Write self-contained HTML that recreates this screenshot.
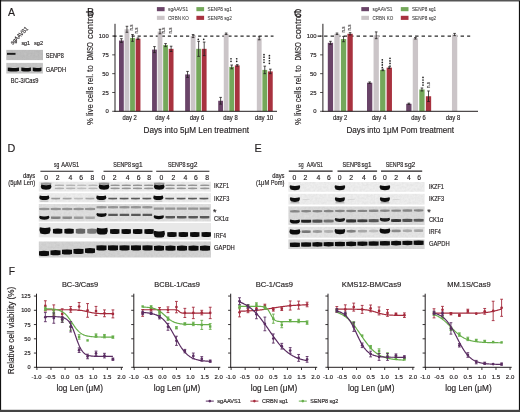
<!DOCTYPE html><html><head><meta charset="utf-8"><style>html,body{margin:0;padding:0;background:#fff;}svg{display:block;font-family:"Liberation Sans",sans-serif;opacity:0.999;}text{stroke:#231f20;stroke-width:0.16px;}</style></head><body><svg width="520" height="412" viewBox="0 0 520 412">
<defs><filter id="b05" x="-20%" y="-50%" width="140%" height="200%"><feGaussianBlur stdDeviation="0.55"/></filter><filter id="b06" x="-20%" y="-50%" width="140%" height="200%"><feGaussianBlur stdDeviation="0.6"/></filter><filter id="noise" x="0" y="0" width="100%" height="100%"><feTurbulence type="fractalNoise" baseFrequency="0.45" numOctaves="2" seed="5" result="t"/><feColorMatrix in="t" type="matrix" values="0 0 0 0 0  0 0 0 0 0  0 0 0 0 0  0.16 0 0 0 -0.04" result="n"/><feComposite in="n" in2="SourceGraphic" operator="in" result="m"/><feMerge><feMergeNode in="SourceGraphic"/><feMergeNode in="m"/></feMerge></filter></defs>
<rect width="520" height="412" fill="#fff"/>
<text x="8.00" y="16.00" font-size="10.5" text-anchor="start" fill="#231f20">A</text>
<text transform="translate(12.80 45.00) rotate(-45)" font-size="6.2" text-anchor="start" fill="#231f20" textLength="22.40" lengthAdjust="spacingAndGlyphs">sgAAVS1</text>
<text x="21.40" y="45.10" font-size="6" text-anchor="start" fill="#231f20" textLength="8.70" lengthAdjust="spacingAndGlyphs">sg1</text>
<text x="34.00" y="45.10" font-size="6" text-anchor="start" fill="#231f20" textLength="9.10" lengthAdjust="spacingAndGlyphs">sg2</text>
<rect x="6.30" y="49.90" width="36.70" height="10.20" fill="#c0c0c0" filter="url(#noise)"/>
<g filter="url(#b06)">
<rect x="7.00" y="52.90" width="8.50" height="1.90" fill="#1a1a1a"/>
</g>
<rect x="6.30" y="62.90" width="36.60" height="10.60" fill="#c8c8c8" filter="url(#noise)"/>
<g filter="url(#b06)">
<path d="M7.8,67.6 Q13.4,68.6 19,67.4 L19,71 Q13.4,72 7.8,71 Z" fill="#111"/>
<path d="M21.3,67.6 Q26.1,68.6 30.9,67.4 L30.9,71 Q26.1,72 21.3,71 Z" fill="#111"/>
<path d="M32.8,67.6 Q37.15,68.6 41.5,67.4 L41.5,71 Q37.15,72 32.8,71 Z" fill="#111"/>
</g>
<text x="45.80" y="57.67" font-size="6.3" text-anchor="start" fill="#231f20" textLength="18.00" lengthAdjust="spacingAndGlyphs">SENP8</text>
<text x="45.80" y="72.10" font-size="6.4" text-anchor="start" fill="#231f20" textLength="20.20" lengthAdjust="spacingAndGlyphs">GAPDH</text>
<text x="10.80" y="83.30" font-size="6.4" text-anchor="start" fill="#231f20" textLength="27.70" lengthAdjust="spacingAndGlyphs">BC-3/Cas9</text>
<line x1="113.40" y1="36.05" x2="273.50" y2="36.05" stroke="#2a2a2a" stroke-width="1.2" stroke-dasharray="3.2,2.85"/>
<rect x="119.00" y="40.56" width="4.80" height="70.73" fill="#6a4468"/>
<line x1="121.40" y1="38.68" x2="121.40" y2="42.45" stroke="#231f20" stroke-width="0.8"/>
<line x1="120.10" y1="38.68" x2="122.70" y2="38.68" stroke="#231f20" stroke-width="0.8"/>
<line x1="120.10" y1="42.45" x2="122.70" y2="42.45" stroke="#231f20" stroke-width="0.8"/>
<rect x="124.55" y="29.28" width="4.80" height="82.02" fill="#cbc5c8"/>
<line x1="126.95" y1="26.27" x2="126.95" y2="32.29" stroke="#231f20" stroke-width="0.8"/>
<line x1="125.65" y1="26.27" x2="128.25" y2="26.27" stroke="#231f20" stroke-width="0.8"/>
<line x1="125.65" y1="32.29" x2="128.25" y2="32.29" stroke="#231f20" stroke-width="0.8"/>
<rect x="130.10" y="37.93" width="4.80" height="73.37" fill="#74a85a"/>
<line x1="132.50" y1="34.55" x2="132.50" y2="41.32" stroke="#231f20" stroke-width="0.8"/>
<line x1="131.20" y1="34.55" x2="133.80" y2="34.55" stroke="#231f20" stroke-width="0.8"/>
<line x1="131.20" y1="41.32" x2="133.80" y2="41.32" stroke="#231f20" stroke-width="0.8"/>
<rect x="135.65" y="38.68" width="4.80" height="72.62" fill="#a8323f"/>
<line x1="138.05" y1="37.93" x2="138.05" y2="39.44" stroke="#231f20" stroke-width="0.8"/>
<line x1="136.75" y1="37.93" x2="139.35" y2="37.93" stroke="#231f20" stroke-width="0.8"/>
<line x1="136.75" y1="39.44" x2="139.35" y2="39.44" stroke="#231f20" stroke-width="0.8"/>
<rect x="152.07" y="49.59" width="4.80" height="61.70" fill="#6a4468"/>
<line x1="154.47" y1="46.59" x2="154.47" y2="52.61" stroke="#231f20" stroke-width="0.8"/>
<line x1="153.17" y1="46.59" x2="155.77" y2="46.59" stroke="#231f20" stroke-width="0.8"/>
<line x1="153.17" y1="52.61" x2="155.77" y2="52.61" stroke="#231f20" stroke-width="0.8"/>
<rect x="157.62" y="31.53" width="4.80" height="79.77" fill="#cbc5c8"/>
<line x1="160.02" y1="29.28" x2="160.02" y2="33.79" stroke="#231f20" stroke-width="0.8"/>
<line x1="158.72" y1="29.28" x2="161.32" y2="29.28" stroke="#231f20" stroke-width="0.8"/>
<line x1="158.72" y1="33.79" x2="161.32" y2="33.79" stroke="#231f20" stroke-width="0.8"/>
<rect x="163.17" y="45.08" width="4.80" height="66.22" fill="#74a85a"/>
<line x1="165.57" y1="43.58" x2="165.57" y2="46.59" stroke="#231f20" stroke-width="0.8"/>
<line x1="164.27" y1="43.58" x2="166.87" y2="43.58" stroke="#231f20" stroke-width="0.8"/>
<line x1="164.27" y1="46.59" x2="166.87" y2="46.59" stroke="#231f20" stroke-width="0.8"/>
<rect x="168.72" y="48.84" width="4.80" height="62.46" fill="#a8323f"/>
<line x1="171.12" y1="46.21" x2="171.12" y2="51.48" stroke="#231f20" stroke-width="0.8"/>
<line x1="169.82" y1="46.21" x2="172.42" y2="46.21" stroke="#231f20" stroke-width="0.8"/>
<line x1="169.82" y1="51.48" x2="172.42" y2="51.48" stroke="#231f20" stroke-width="0.8"/>
<rect x="185.14" y="74.43" width="4.80" height="36.87" fill="#6a4468"/>
<line x1="187.54" y1="71.42" x2="187.54" y2="77.44" stroke="#231f20" stroke-width="0.8"/>
<line x1="186.24" y1="71.42" x2="188.84" y2="71.42" stroke="#231f20" stroke-width="0.8"/>
<line x1="186.24" y1="77.44" x2="188.84" y2="77.44" stroke="#231f20" stroke-width="0.8"/>
<rect x="190.69" y="36.05" width="4.80" height="75.25" fill="#cbc5c8"/>
<line x1="193.09" y1="34.55" x2="193.09" y2="37.56" stroke="#231f20" stroke-width="0.8"/>
<line x1="191.79" y1="34.55" x2="194.39" y2="34.55" stroke="#231f20" stroke-width="0.8"/>
<line x1="191.79" y1="37.56" x2="194.39" y2="37.56" stroke="#231f20" stroke-width="0.8"/>
<rect x="196.24" y="48.84" width="4.80" height="62.46" fill="#74a85a"/>
<line x1="198.64" y1="41.32" x2="198.64" y2="56.37" stroke="#231f20" stroke-width="0.8"/>
<line x1="197.34" y1="41.32" x2="199.94" y2="41.32" stroke="#231f20" stroke-width="0.8"/>
<line x1="197.34" y1="56.37" x2="199.94" y2="56.37" stroke="#231f20" stroke-width="0.8"/>
<rect x="201.79" y="48.84" width="4.80" height="62.46" fill="#a8323f"/>
<line x1="204.19" y1="42.07" x2="204.19" y2="55.62" stroke="#231f20" stroke-width="0.8"/>
<line x1="202.89" y1="42.07" x2="205.49" y2="42.07" stroke="#231f20" stroke-width="0.8"/>
<line x1="202.89" y1="55.62" x2="205.49" y2="55.62" stroke="#231f20" stroke-width="0.8"/>
<rect x="218.21" y="100.77" width="4.80" height="10.53" fill="#6a4468"/>
<line x1="220.61" y1="97.38" x2="220.61" y2="104.15" stroke="#231f20" stroke-width="0.8"/>
<line x1="219.31" y1="97.38" x2="221.91" y2="97.38" stroke="#231f20" stroke-width="0.8"/>
<line x1="219.31" y1="104.15" x2="221.91" y2="104.15" stroke="#231f20" stroke-width="0.8"/>
<rect x="223.76" y="33.79" width="4.80" height="77.51" fill="#cbc5c8"/>
<line x1="226.16" y1="33.04" x2="226.16" y2="34.55" stroke="#231f20" stroke-width="0.8"/>
<line x1="224.86" y1="33.04" x2="227.46" y2="33.04" stroke="#231f20" stroke-width="0.8"/>
<line x1="224.86" y1="34.55" x2="227.46" y2="34.55" stroke="#231f20" stroke-width="0.8"/>
<rect x="229.31" y="66.90" width="4.80" height="44.40" fill="#74a85a"/>
<line x1="231.71" y1="65.02" x2="231.71" y2="68.78" stroke="#231f20" stroke-width="0.8"/>
<line x1="230.41" y1="65.02" x2="233.01" y2="65.02" stroke="#231f20" stroke-width="0.8"/>
<line x1="230.41" y1="68.78" x2="233.01" y2="68.78" stroke="#231f20" stroke-width="0.8"/>
<rect x="234.86" y="65.40" width="4.80" height="45.90" fill="#a8323f"/>
<line x1="237.26" y1="64.65" x2="237.26" y2="66.15" stroke="#231f20" stroke-width="0.8"/>
<line x1="235.96" y1="64.65" x2="238.56" y2="64.65" stroke="#231f20" stroke-width="0.8"/>
<line x1="235.96" y1="66.15" x2="238.56" y2="66.15" stroke="#231f20" stroke-width="0.8"/>
<rect x="256.83" y="38.31" width="4.80" height="72.99" fill="#cbc5c8"/>
<line x1="259.23" y1="36.80" x2="259.23" y2="39.81" stroke="#231f20" stroke-width="0.8"/>
<line x1="257.93" y1="36.80" x2="260.53" y2="36.80" stroke="#231f20" stroke-width="0.8"/>
<line x1="257.93" y1="39.81" x2="260.53" y2="39.81" stroke="#231f20" stroke-width="0.8"/>
<rect x="262.38" y="69.91" width="4.80" height="41.39" fill="#74a85a"/>
<line x1="264.78" y1="66.15" x2="264.78" y2="73.67" stroke="#231f20" stroke-width="0.8"/>
<line x1="263.48" y1="66.15" x2="266.08" y2="66.15" stroke="#231f20" stroke-width="0.8"/>
<line x1="263.48" y1="73.67" x2="266.08" y2="73.67" stroke="#231f20" stroke-width="0.8"/>
<rect x="267.93" y="71.42" width="4.80" height="39.88" fill="#a8323f"/>
<line x1="270.33" y1="69.16" x2="270.33" y2="73.67" stroke="#231f20" stroke-width="0.8"/>
<line x1="269.03" y1="69.16" x2="271.63" y2="69.16" stroke="#231f20" stroke-width="0.8"/>
<line x1="269.03" y1="73.67" x2="271.63" y2="73.67" stroke="#231f20" stroke-width="0.8"/>
<line x1="115.00" y1="23.80" x2="115.00" y2="111.80" stroke="#231f20" stroke-width="1"/>
<line x1="114.50" y1="111.30" x2="277.00" y2="111.30" stroke="#231f20" stroke-width="1"/>
<line x1="112.20" y1="111.30" x2="115.00" y2="111.30" stroke="#231f20" stroke-width="0.8"/>
<text x="108.70" y="113.42" font-size="5.9" text-anchor="end" fill="#231f20">0</text>
<line x1="112.20" y1="92.49" x2="115.00" y2="92.49" stroke="#231f20" stroke-width="0.8"/>
<text x="108.70" y="94.61" font-size="5.9" text-anchor="end" fill="#231f20">25</text>
<line x1="112.20" y1="73.67" x2="115.00" y2="73.67" stroke="#231f20" stroke-width="0.8"/>
<text x="108.70" y="75.80" font-size="5.9" text-anchor="end" fill="#231f20">50</text>
<line x1="112.20" y1="54.86" x2="115.00" y2="54.86" stroke="#231f20" stroke-width="0.8"/>
<text x="108.70" y="56.99" font-size="5.9" text-anchor="end" fill="#231f20">75</text>
<line x1="112.20" y1="36.05" x2="115.00" y2="36.05" stroke="#231f20" stroke-width="0.8"/>
<text x="108.70" y="38.17" font-size="5.9" text-anchor="end" fill="#231f20">100</text>
<text x="129.60" y="120.30" font-size="6.4" text-anchor="middle" fill="#231f20" textLength="14.30" lengthAdjust="spacingAndGlyphs">day 2</text>
<text x="162.50" y="120.30" font-size="6.4" text-anchor="middle" fill="#231f20" textLength="14.30" lengthAdjust="spacingAndGlyphs">day 4</text>
<text x="197.00" y="120.30" font-size="6.4" text-anchor="middle" fill="#231f20" textLength="14.30" lengthAdjust="spacingAndGlyphs">day 6</text>
<text x="230.50" y="120.30" font-size="6.4" text-anchor="middle" fill="#231f20" textLength="14.30" lengthAdjust="spacingAndGlyphs">day 8</text>
<text x="264.00" y="120.30" font-size="6.4" text-anchor="middle" fill="#231f20" textLength="18.50" lengthAdjust="spacingAndGlyphs">day 10</text>
<text x="143.50" y="133.10" font-size="8.9" text-anchor="start" fill="#231f20" textLength="105.50" lengthAdjust="spacingAndGlyphs">Days into 5μM Len treatment</text>
<text transform="translate(92.70 124.90) rotate(-90)" font-size="8.6" fill="#231f20" textLength="59.70" lengthAdjust="spacingAndGlyphs">% live cells rel. to</text>
<text transform="translate(92.70 60.60) rotate(-90)" font-size="8.6" fill="#231f20" textLength="18.40" lengthAdjust="spacingAndGlyphs">DMSO</text>
<text transform="translate(92.70 39.00) rotate(-90)" font-size="8.6" fill="#231f20" textLength="28.00" lengthAdjust="spacingAndGlyphs">control</text>
<rect x="156.90" y="7.10" width="7.70" height="4.10" fill="#6a4468"/>
<text x="168.10" y="11.11" font-size="5.3" text-anchor="start" fill="#333" textLength="20.00" lengthAdjust="spacingAndGlyphs" style="stroke-width:0.05px">sgAAVS1</text>
<rect x="156.90" y="15.80" width="7.70" height="4.10" fill="#cbc5c8"/>
<text x="168.10" y="19.81" font-size="5.3" text-anchor="start" fill="#333" textLength="20.70" lengthAdjust="spacingAndGlyphs" style="stroke-width:0.05px">CRBN KO</text>
<rect x="196.40" y="7.10" width="7.70" height="4.10" fill="#74a85a"/>
<text x="207.60" y="11.11" font-size="5.3" text-anchor="start" fill="#333" textLength="24.20" lengthAdjust="spacingAndGlyphs" style="stroke-width:0.05px">SENP8 sg1</text>
<rect x="196.40" y="15.80" width="7.70" height="4.10" fill="#a8323f"/>
<text x="207.60" y="19.81" font-size="5.3" text-anchor="start" fill="#333" textLength="24.20" lengthAdjust="spacingAndGlyphs" style="stroke-width:0.05px">SENP8 sg2</text>
<text transform="translate(132.90 30.60) rotate(-90)" font-size="5.2" fill="#231f20" textLength="6" lengthAdjust="spacingAndGlyphs" style="stroke-width:0.12px">n.s</text>
<text transform="translate(138.10 33.60) rotate(-90)" font-size="5.2" fill="#231f20" textLength="6" lengthAdjust="spacingAndGlyphs" style="stroke-width:0.12px">n.s</text>
<text transform="translate(165.20 33.60) rotate(-90)" font-size="5.2" fill="#231f20" textLength="6" lengthAdjust="spacingAndGlyphs" style="stroke-width:0.12px">n.s</text>
<text transform="translate(171.60 33.60) rotate(-90)" font-size="5.2" fill="#231f20" textLength="6" lengthAdjust="spacingAndGlyphs" style="stroke-width:0.12px">n.s</text>
<circle cx="198.30" cy="39.30" r="0.85" fill="#222"/>
<circle cx="203.70" cy="39.30" r="0.85" fill="#222"/>
<circle cx="231.00" cy="61.30" r="0.85" fill="#222"/>
<circle cx="231.00" cy="58.75" r="0.85" fill="#222"/>
<circle cx="236.70" cy="61.30" r="0.85" fill="#222"/>
<circle cx="236.70" cy="58.75" r="0.85" fill="#222"/>
<circle cx="264.00" cy="62.30" r="0.85" fill="#222"/>
<circle cx="264.00" cy="59.75" r="0.85" fill="#222"/>
<circle cx="264.00" cy="57.20" r="0.85" fill="#222"/>
<circle cx="264.00" cy="54.65" r="0.85" fill="#222"/>
<circle cx="269.40" cy="63.30" r="0.85" fill="#222"/>
<circle cx="269.40" cy="60.75" r="0.85" fill="#222"/>
<circle cx="269.40" cy="58.20" r="0.85" fill="#222"/>
<circle cx="269.40" cy="55.65" r="0.85" fill="#222"/>
<text x="87.00" y="16.40" font-size="10.8" text-anchor="start" fill="#231f20">B</text>
<line x1="317.60" y1="36.05" x2="470.20" y2="36.05" stroke="#2a2a2a" stroke-width="1.2" stroke-dasharray="3.4,3.1"/>
<rect x="327.80" y="42.82" width="5.30" height="68.48" fill="#6a4468"/>
<line x1="330.45" y1="41.32" x2="330.45" y2="44.33" stroke="#231f20" stroke-width="0.8"/>
<line x1="329.15" y1="41.32" x2="331.75" y2="41.32" stroke="#231f20" stroke-width="0.8"/>
<line x1="329.15" y1="44.33" x2="331.75" y2="44.33" stroke="#231f20" stroke-width="0.8"/>
<rect x="334.35" y="33.79" width="5.30" height="77.51" fill="#cbc5c8"/>
<line x1="337.00" y1="33.04" x2="337.00" y2="34.55" stroke="#231f20" stroke-width="0.8"/>
<line x1="335.70" y1="33.04" x2="338.30" y2="33.04" stroke="#231f20" stroke-width="0.8"/>
<line x1="335.70" y1="34.55" x2="338.30" y2="34.55" stroke="#231f20" stroke-width="0.8"/>
<rect x="340.90" y="39.06" width="5.30" height="72.24" fill="#74a85a"/>
<line x1="343.55" y1="36.43" x2="343.55" y2="41.69" stroke="#231f20" stroke-width="0.8"/>
<line x1="342.25" y1="36.43" x2="344.85" y2="36.43" stroke="#231f20" stroke-width="0.8"/>
<line x1="342.25" y1="41.69" x2="344.85" y2="41.69" stroke="#231f20" stroke-width="0.8"/>
<rect x="347.45" y="33.79" width="5.30" height="77.51" fill="#a8323f"/>
<line x1="350.10" y1="32.66" x2="350.10" y2="34.92" stroke="#231f20" stroke-width="0.8"/>
<line x1="348.80" y1="32.66" x2="351.40" y2="32.66" stroke="#231f20" stroke-width="0.8"/>
<line x1="348.80" y1="34.92" x2="351.40" y2="34.92" stroke="#231f20" stroke-width="0.8"/>
<rect x="367.00" y="82.70" width="5.30" height="28.59" fill="#6a4468"/>
<line x1="369.65" y1="81.95" x2="369.65" y2="83.46" stroke="#231f20" stroke-width="0.8"/>
<line x1="368.35" y1="81.95" x2="370.95" y2="81.95" stroke="#231f20" stroke-width="0.8"/>
<line x1="368.35" y1="83.46" x2="370.95" y2="83.46" stroke="#231f20" stroke-width="0.8"/>
<rect x="373.55" y="35.30" width="5.30" height="76.00" fill="#cbc5c8"/>
<line x1="376.20" y1="31.91" x2="376.20" y2="38.68" stroke="#231f20" stroke-width="0.8"/>
<line x1="374.90" y1="31.91" x2="377.50" y2="31.91" stroke="#231f20" stroke-width="0.8"/>
<line x1="374.90" y1="38.68" x2="377.50" y2="38.68" stroke="#231f20" stroke-width="0.8"/>
<rect x="380.10" y="69.91" width="5.30" height="41.39" fill="#74a85a"/>
<line x1="382.75" y1="69.16" x2="382.75" y2="70.66" stroke="#231f20" stroke-width="0.8"/>
<line x1="381.45" y1="69.16" x2="384.05" y2="69.16" stroke="#231f20" stroke-width="0.8"/>
<line x1="381.45" y1="70.66" x2="384.05" y2="70.66" stroke="#231f20" stroke-width="0.8"/>
<rect x="386.65" y="67.66" width="5.30" height="43.64" fill="#a8323f"/>
<line x1="389.30" y1="66.90" x2="389.30" y2="68.41" stroke="#231f20" stroke-width="0.8"/>
<line x1="388.00" y1="66.90" x2="390.60" y2="66.90" stroke="#231f20" stroke-width="0.8"/>
<line x1="388.00" y1="68.41" x2="390.60" y2="68.41" stroke="#231f20" stroke-width="0.8"/>
<rect x="406.20" y="103.77" width="5.30" height="7.53" fill="#6a4468"/>
<line x1="408.85" y1="103.17" x2="408.85" y2="104.38" stroke="#231f20" stroke-width="0.8"/>
<line x1="407.55" y1="103.17" x2="410.15" y2="103.17" stroke="#231f20" stroke-width="0.8"/>
<line x1="407.55" y1="104.38" x2="410.15" y2="104.38" stroke="#231f20" stroke-width="0.8"/>
<rect x="412.75" y="38.31" width="5.30" height="72.99" fill="#cbc5c8"/>
<line x1="415.40" y1="37.56" x2="415.40" y2="39.06" stroke="#231f20" stroke-width="0.8"/>
<line x1="414.10" y1="37.56" x2="416.70" y2="37.56" stroke="#231f20" stroke-width="0.8"/>
<line x1="414.10" y1="39.06" x2="416.70" y2="39.06" stroke="#231f20" stroke-width="0.8"/>
<rect x="419.30" y="89.48" width="5.30" height="21.82" fill="#74a85a"/>
<line x1="421.95" y1="87.97" x2="421.95" y2="90.98" stroke="#231f20" stroke-width="0.8"/>
<line x1="420.65" y1="87.97" x2="423.25" y2="87.97" stroke="#231f20" stroke-width="0.8"/>
<line x1="420.65" y1="90.98" x2="423.25" y2="90.98" stroke="#231f20" stroke-width="0.8"/>
<rect x="425.85" y="96.25" width="5.30" height="15.05" fill="#a8323f"/>
<line x1="428.50" y1="90.98" x2="428.50" y2="101.52" stroke="#231f20" stroke-width="0.8"/>
<line x1="427.20" y1="90.98" x2="429.80" y2="90.98" stroke="#231f20" stroke-width="0.8"/>
<line x1="427.20" y1="101.52" x2="429.80" y2="101.52" stroke="#231f20" stroke-width="0.8"/>
<rect x="451.95" y="34.55" width="5.30" height="76.75" fill="#cbc5c8"/>
<line x1="454.60" y1="33.42" x2="454.60" y2="35.67" stroke="#231f20" stroke-width="0.8"/>
<line x1="453.30" y1="33.42" x2="455.90" y2="33.42" stroke="#231f20" stroke-width="0.8"/>
<line x1="453.30" y1="35.67" x2="455.90" y2="35.67" stroke="#231f20" stroke-width="0.8"/>
<line x1="322.90" y1="23.80" x2="322.90" y2="111.80" stroke="#231f20" stroke-width="1"/>
<line x1="322.40" y1="111.30" x2="478.00" y2="111.30" stroke="#231f20" stroke-width="1"/>
<line x1="320.10" y1="111.30" x2="322.90" y2="111.30" stroke="#231f20" stroke-width="0.8"/>
<text x="316.60" y="113.42" font-size="5.9" text-anchor="end" fill="#231f20">0</text>
<line x1="320.10" y1="92.49" x2="322.90" y2="92.49" stroke="#231f20" stroke-width="0.8"/>
<text x="316.60" y="94.61" font-size="5.9" text-anchor="end" fill="#231f20">25</text>
<line x1="320.10" y1="73.67" x2="322.90" y2="73.67" stroke="#231f20" stroke-width="0.8"/>
<text x="316.60" y="75.80" font-size="5.9" text-anchor="end" fill="#231f20">50</text>
<line x1="320.10" y1="54.86" x2="322.90" y2="54.86" stroke="#231f20" stroke-width="0.8"/>
<text x="316.60" y="56.99" font-size="5.9" text-anchor="end" fill="#231f20">75</text>
<line x1="320.10" y1="36.05" x2="322.90" y2="36.05" stroke="#231f20" stroke-width="0.8"/>
<text x="316.60" y="38.17" font-size="5.9" text-anchor="end" fill="#231f20">100</text>
<text x="340.20" y="120.30" font-size="6.4" text-anchor="middle" fill="#231f20" textLength="14.30" lengthAdjust="spacingAndGlyphs">day 2</text>
<text x="379.00" y="120.30" font-size="6.4" text-anchor="middle" fill="#231f20" textLength="14.30" lengthAdjust="spacingAndGlyphs">day 4</text>
<text x="418.50" y="120.30" font-size="6.4" text-anchor="middle" fill="#231f20" textLength="14.30" lengthAdjust="spacingAndGlyphs">day 6</text>
<text x="453.00" y="120.30" font-size="6.4" text-anchor="middle" fill="#231f20" textLength="14.30" lengthAdjust="spacingAndGlyphs">day 8</text>
<text x="346.50" y="133.10" font-size="8.9" text-anchor="start" fill="#231f20" textLength="107.50" lengthAdjust="spacingAndGlyphs">Days into 1μM Pom treatment</text>
<text transform="translate(300.60 124.90) rotate(-90)" font-size="8.6" fill="#231f20" textLength="59.70" lengthAdjust="spacingAndGlyphs">% live cells rel. to</text>
<text transform="translate(300.60 60.60) rotate(-90)" font-size="8.6" fill="#231f20" textLength="18.40" lengthAdjust="spacingAndGlyphs">DMSO</text>
<text transform="translate(300.60 39.00) rotate(-90)" font-size="8.6" fill="#231f20" textLength="28.00" lengthAdjust="spacingAndGlyphs">control</text>
<rect x="361.30" y="7.10" width="7.70" height="4.10" fill="#6a4468"/>
<text x="372.50" y="11.11" font-size="5.3" text-anchor="start" fill="#333" textLength="20.00" lengthAdjust="spacingAndGlyphs" style="stroke-width:0.05px">sgAAVS1</text>
<rect x="361.30" y="15.80" width="7.70" height="4.10" fill="#cbc5c8"/>
<text x="372.50" y="19.81" font-size="5.3" text-anchor="start" fill="#333" textLength="20.70" lengthAdjust="spacingAndGlyphs" style="stroke-width:0.05px">CRBN KO</text>
<rect x="400.80" y="7.10" width="7.70" height="4.10" fill="#74a85a"/>
<text x="412.00" y="11.11" font-size="5.3" text-anchor="start" fill="#333" textLength="24.20" lengthAdjust="spacingAndGlyphs" style="stroke-width:0.05px">SENP8 sg1</text>
<rect x="400.80" y="15.80" width="7.70" height="4.10" fill="#a8323f"/>
<text x="412.00" y="19.81" font-size="5.3" text-anchor="start" fill="#333" textLength="24.20" lengthAdjust="spacingAndGlyphs" style="stroke-width:0.05px">SENP8 sg2</text>
<text transform="translate(344.50 32.50) rotate(-90)" font-size="5.2" fill="#231f20" textLength="6" lengthAdjust="spacingAndGlyphs" style="stroke-width:0.12px">n.s</text>
<text transform="translate(350.80 30.60) rotate(-90)" font-size="5.2" fill="#231f20" textLength="6" lengthAdjust="spacingAndGlyphs" style="stroke-width:0.12px">n.s</text>
<circle cx="382.30" cy="67.50" r="0.85" fill="#222"/>
<circle cx="382.30" cy="64.95" r="0.85" fill="#222"/>
<circle cx="382.30" cy="62.40" r="0.85" fill="#222"/>
<circle cx="382.30" cy="59.85" r="0.85" fill="#222"/>
<circle cx="390.00" cy="66.00" r="0.85" fill="#222"/>
<circle cx="390.00" cy="63.45" r="0.85" fill="#222"/>
<circle cx="390.00" cy="60.90" r="0.85" fill="#222"/>
<circle cx="390.00" cy="58.35" r="0.85" fill="#222"/>
<circle cx="423.00" cy="85.10" r="0.85" fill="#222"/>
<circle cx="423.00" cy="82.55" r="0.85" fill="#222"/>
<circle cx="423.00" cy="80.00" r="0.85" fill="#222"/>
<circle cx="423.00" cy="77.45" r="0.85" fill="#222"/>
<text transform="translate(430.00 88.00) rotate(-90)" font-size="5.2" fill="#231f20" textLength="6" lengthAdjust="spacingAndGlyphs" style="stroke-width:0.12px">n.s</text>
<text x="294.00" y="16.60" font-size="10.8" text-anchor="start" fill="#231f20">C</text>
<text x="7.40" y="152.30" font-size="10.8" text-anchor="start" fill="#231f20">D</text>
<text x="54.10" y="166.87" font-size="6.3" text-anchor="start" fill="#231f20" textLength="5.30" lengthAdjust="spacingAndGlyphs">sg</text>
<line x1="40.40" y1="171.20" x2="93.50" y2="171.20" stroke="#231f20" stroke-width="1.1"/>
<text x="61.30" y="166.87" font-size="6.3" text-anchor="start" fill="#231f20" textLength="17.80" lengthAdjust="spacingAndGlyphs">AAVS1</text>
<text x="113.30" y="166.87" font-size="6.3" text-anchor="start" fill="#231f20" textLength="17.60" lengthAdjust="spacingAndGlyphs">SENP8</text>
<line x1="103.50" y1="171.20" x2="152.50" y2="171.20" stroke="#231f20" stroke-width="1.1"/>
<text x="132.10" y="166.87" font-size="6.3" text-anchor="start" fill="#231f20" textLength="10.40" lengthAdjust="spacingAndGlyphs">sg1</text>
<text x="168.00" y="166.87" font-size="6.3" text-anchor="start" fill="#231f20" textLength="17.40" lengthAdjust="spacingAndGlyphs">SENP8</text>
<line x1="156.20" y1="171.20" x2="209.40" y2="171.20" stroke="#231f20" stroke-width="1.1"/>
<text x="186.60" y="166.87" font-size="6.3" text-anchor="start" fill="#231f20" textLength="10.80" lengthAdjust="spacingAndGlyphs">sg2</text>
<text x="35.20" y="177.65" font-size="6.8" text-anchor="end" fill="#231f20" textLength="12.30" lengthAdjust="spacingAndGlyphs">days</text>
<text x="35.20" y="185.15" font-size="6.8" text-anchor="end" fill="#231f20" textLength="27.00" lengthAdjust="spacingAndGlyphs">(5μM Len)</text>
<text x="46.20" y="180.05" font-size="6.8" text-anchor="middle" fill="#231f20">0</text>
<text x="57.70" y="180.05" font-size="6.8" text-anchor="middle" fill="#231f20">2</text>
<text x="70.40" y="180.05" font-size="6.8" text-anchor="middle" fill="#231f20">4</text>
<text x="81.20" y="180.05" font-size="6.8" text-anchor="middle" fill="#231f20">6</text>
<text x="92.30" y="180.05" font-size="6.8" text-anchor="middle" fill="#231f20">8</text>
<text x="103.50" y="180.05" font-size="6.8" text-anchor="middle" fill="#231f20">0</text>
<text x="114.60" y="180.05" font-size="6.8" text-anchor="middle" fill="#231f20">2</text>
<text x="127.70" y="180.05" font-size="6.8" text-anchor="middle" fill="#231f20">4</text>
<text x="138.70" y="180.05" font-size="6.8" text-anchor="middle" fill="#231f20">6</text>
<text x="149.20" y="180.05" font-size="6.8" text-anchor="middle" fill="#231f20">8</text>
<text x="161.50" y="180.05" font-size="6.8" text-anchor="middle" fill="#231f20">0</text>
<text x="173.30" y="180.05" font-size="6.8" text-anchor="middle" fill="#231f20">2</text>
<text x="185.30" y="180.05" font-size="6.8" text-anchor="middle" fill="#231f20">4</text>
<text x="196.00" y="180.05" font-size="6.8" text-anchor="middle" fill="#231f20">6</text>
<text x="207.20" y="180.05" font-size="6.8" text-anchor="middle" fill="#231f20">8</text>
<rect x="38.80" y="181.70" width="172.20" height="9.80" fill="#ededed" filter="url(#noise)"/>
<rect x="38.80" y="193.20" width="172.20" height="9.10" fill="#eeeeee" filter="url(#noise)"/>
<rect x="38.80" y="204.00" width="172.20" height="17.50" fill="#e0e0e0" filter="url(#noise)"/>
<polygon points="38.8,222.9 211.0,222.9 211.0,240 38.8,237.3" fill="#e8e8e8"/>
<rect x="38.80" y="241.50" width="172.20" height="16.00" fill="#d4d4d4" filter="url(#noise)"/>
<g filter="url(#b05)">
<path d="M40.85,182.84 Q46.10,182.20 51.35,182.84 L51.35,184.60 Q46.10,185.40 40.85,184.60 Z" fill="#9a9a9a" opacity="1"/>
<path d="M41.30,184.50 Q46.10,186.10 50.90,184.50 Q52.20,186.70 50.30,188.90 Q46.10,190.50 41.90,188.90 Q40.00,186.70 41.30,184.50 Z" fill="#0d0d0d"/>
<path d="M39.80,195.40 Q44.30,196.80 48.80,195.40 Q50.10,197.40 48.20,199.40 Q44.30,200.80 40.40,199.40 Q38.50,197.40 39.80,195.40 Z" fill="#0d0d0d"/>
<path d="M40.30,200.72 Q44.30,200.40 48.30,200.72 L48.30,201.40 Q44.30,201.80 40.30,201.40 Z" fill="#b0b0b0" opacity="1"/>
<path d="M39.30,207.99 Q44.30,207.75 49.30,207.99 L49.30,210.10 Q44.30,210.40 39.30,210.10 Z" fill="#959595" opacity="1"/>
<path d="M39.65,215.70 Q44.30,217.10 48.95,215.70 Q50.25,217.40 48.35,219.10 Q44.30,220.50 40.25,219.10 Q38.35,217.40 39.65,215.70 Z" fill="#0d0d0d"/>
<path d="M39.85,227.30 Q45.00,228.70 50.15,227.30 Q51.45,230.40 49.55,233.50 Q45.00,234.90 40.45,233.50 Q38.55,230.40 39.85,227.30 Z" fill="#0d0d0d"/>
<path d="M39.00,251.20 Q44.00,250.40 49.00,251.20 L49.00,255.50 Q44.00,256.50 39.00,255.50 Z" fill="#0d0d0d" opacity="1"/>
<path d="M54.90,184.74 Q59.40,184.50 63.90,184.74 L63.90,185.95 Q59.40,186.25 54.90,185.95 Z" fill="#b0b0b0" opacity="1"/>
<path d="M54.90,187.64 Q59.40,187.40 63.90,187.64 L63.90,189.05 Q59.40,189.35 54.90,189.05 Z" fill="#b0b0b0" opacity="1"/>
<path d="M51.30,197.84 Q55.70,197.60 60.10,197.84 L60.10,199.25 Q55.70,199.55 51.30,199.25 Z" fill="#9a9a9a" opacity="1"/>
<path d="M50.75,207.99 Q55.75,207.75 60.75,207.99 L60.75,210.10 Q55.75,210.40 50.75,210.10 Z" fill="#959595" opacity="1"/>
<path d="M51.00,216.62 Q55.75,216.30 60.50,216.62 L60.50,218.70 Q55.75,219.10 51.00,218.70 Z" fill="#808080" opacity="1"/>
<path d="M52.93,228.90 Q57.63,228.10 62.33,228.90 L62.33,233.20 Q57.63,234.20 52.93,233.20 Z" fill="#101010" opacity="1"/>
<path d="M50.50,250.50 Q55.50,249.70 60.50,250.50 L60.50,254.80 Q55.50,255.80 50.50,254.80 Z" fill="#0d0d0d" opacity="1"/>
<path d="M66.20,184.74 Q70.70,184.50 75.20,184.74 L75.20,185.95 Q70.70,186.25 66.20,185.95 Z" fill="#b4b4b4" opacity="1"/>
<path d="M66.20,187.64 Q70.70,187.40 75.20,187.64 L75.20,189.05 Q70.70,189.35 66.20,189.05 Z" fill="#b4b4b4" opacity="1"/>
<path d="M62.70,197.84 Q67.10,197.60 71.50,197.84 L71.50,199.25 Q67.10,199.55 62.70,199.25 Z" fill="#a4a4a4" opacity="1"/>
<path d="M62.20,207.99 Q67.20,207.75 72.20,207.99 L72.20,210.10 Q67.20,210.40 62.20,210.10 Z" fill="#959595" opacity="1"/>
<path d="M62.45,216.62 Q67.20,216.30 71.95,216.62 L71.95,218.70 Q67.20,219.10 62.45,218.70 Z" fill="#8a8a8a" opacity="1"/>
<path d="M64.36,228.90 Q69.06,228.10 73.76,228.90 L73.76,233.20 Q69.06,234.20 64.36,233.20 Z" fill="#101010" opacity="1"/>
<path d="M62.00,249.80 Q67.00,249.00 72.00,249.80 L72.00,254.10 Q67.00,255.10 62.00,254.10 Z" fill="#0d0d0d" opacity="1"/>
<path d="M77.30,184.74 Q81.80,184.50 86.30,184.74 L86.30,185.95 Q81.80,186.25 77.30,185.95 Z" fill="#bebebe" opacity="1"/>
<path d="M77.30,187.64 Q81.80,187.40 86.30,187.64 L86.30,189.05 Q81.80,189.35 77.30,189.05 Z" fill="#bebebe" opacity="1"/>
<path d="M74.10,197.84 Q78.50,197.60 82.90,197.84 L82.90,199.25 Q78.50,199.55 74.10,199.25 Z" fill="#bcbcbc" opacity="1"/>
<path d="M73.65,207.99 Q78.65,207.75 83.65,207.99 L83.65,210.10 Q78.65,210.40 73.65,210.10 Z" fill="#959595" opacity="1"/>
<path d="M73.90,216.62 Q78.65,216.30 83.40,216.62 L83.40,218.70 Q78.65,219.10 73.90,218.70 Z" fill="#9a9a9a" opacity="1"/>
<path d="M75.79,228.90 Q80.49,228.10 85.19,228.90 L85.19,233.20 Q80.49,234.20 75.79,233.20 Z" fill="#666666" opacity="1"/>
<path d="M73.50,249.10 Q78.50,248.30 83.50,249.10 L83.50,253.40 Q78.50,254.40 73.50,253.40 Z" fill="#0d0d0d" opacity="1"/>
<path d="M88.50,184.74 Q93.00,184.50 97.50,184.74 L97.50,185.95 Q93.00,186.25 88.50,185.95 Z" fill="#b8b8b8" opacity="1"/>
<path d="M88.50,187.64 Q93.00,187.40 97.50,187.64 L97.50,189.05 Q93.00,189.35 88.50,189.05 Z" fill="#b8b8b8" opacity="1"/>
<path d="M85.50,197.84 Q89.90,197.60 94.30,197.84 L94.30,199.25 Q89.90,199.55 85.50,199.25 Z" fill="#a8a8a8" opacity="1"/>
<path d="M85.10,207.99 Q90.10,207.75 95.10,207.99 L95.10,210.10 Q90.10,210.40 85.10,210.10 Z" fill="#959595" opacity="1"/>
<path d="M85.35,216.62 Q90.10,216.30 94.85,216.62 L94.85,218.70 Q90.10,219.10 85.35,218.70 Z" fill="#a4a4a4" opacity="1"/>
<path d="M87.22,228.90 Q91.92,228.10 96.62,228.90 L96.62,233.20 Q91.92,234.20 87.22,233.20 Z" fill="#7a7a7a" opacity="1"/>
<path d="M85.00,248.40 Q90.00,247.60 95.00,248.40 L95.00,252.70 Q90.00,253.70 85.00,252.70 Z" fill="#0d0d0d" opacity="1"/>
<path d="M98.75,182.84 Q104.00,182.20 109.25,182.84 L109.25,184.60 Q104.00,185.40 98.75,184.60 Z" fill="#9a9a9a" opacity="1"/>
<path d="M99.20,184.50 Q104.00,186.10 108.80,184.50 Q110.10,186.70 108.20,188.90 Q104.00,190.50 99.80,188.90 Q97.90,186.70 99.20,184.50 Z" fill="#0d0d0d"/>
<path d="M96.80,195.40 Q101.30,196.80 105.80,195.40 Q107.10,197.40 105.20,199.40 Q101.30,200.80 97.40,199.40 Q95.50,197.40 96.80,195.40 Z" fill="#0d0d0d"/>
<path d="M97.30,200.72 Q101.30,200.40 105.30,200.72 L105.30,201.40 Q101.30,201.80 97.30,201.40 Z" fill="#b0b0b0" opacity="1"/>
<path d="M96.55,206.19 Q101.55,205.95 106.55,206.19 L106.55,208.30 Q101.55,208.60 96.55,208.30 Z" fill="#959595" opacity="1"/>
<path d="M96.90,212.90 Q101.55,214.30 106.20,212.90 Q107.50,214.60 105.60,216.30 Q101.55,217.70 97.50,216.30 Q95.60,214.60 96.90,212.90 Z" fill="#0d0d0d"/>
<path d="M97.00,227.70 Q102.15,229.10 107.30,227.70 Q108.60,230.80 106.70,233.90 Q102.15,235.30 97.60,233.90 Q95.70,230.80 97.00,227.70 Z" fill="#0d0d0d"/>
<path d="M96.50,245.60 Q101.50,244.80 106.50,245.60 L106.50,249.90 Q101.50,250.90 96.50,249.90 Z" fill="#0d0d0d" opacity="1"/>
<path d="M110.60,184.74 Q115.10,184.50 119.60,184.74 L119.60,185.95 Q115.10,186.25 110.60,185.95 Z" fill="#959595" opacity="1"/>
<path d="M110.60,187.64 Q115.10,187.40 119.60,187.64 L119.60,189.05 Q115.10,189.35 110.60,189.05 Z" fill="#959595" opacity="1"/>
<path d="M108.30,197.84 Q112.70,197.60 117.10,197.84 L117.10,199.25 Q112.70,199.55 108.30,199.25 Z" fill="#5a5a5a" opacity="1"/>
<path d="M108.00,206.19 Q113.00,205.95 118.00,206.19 L118.00,208.30 Q113.00,208.60 108.00,208.30 Z" fill="#959595" opacity="1"/>
<path d="M108.25,213.82 Q113.00,213.50 117.75,213.82 L117.75,215.90 Q113.00,216.30 108.25,215.90 Z" fill="#585858" opacity="1"/>
<path d="M110.08,229.30 Q114.78,228.50 119.48,229.30 L119.48,233.60 Q114.78,234.60 110.08,233.60 Z" fill="#101010" opacity="1"/>
<path d="M108.00,245.60 Q113.00,244.80 118.00,245.60 L118.00,249.90 Q113.00,250.90 108.00,249.90 Z" fill="#0d0d0d" opacity="1"/>
<path d="M121.80,184.74 Q126.30,184.50 130.80,184.74 L130.80,185.95 Q126.30,186.25 121.80,185.95 Z" fill="#959595" opacity="1"/>
<path d="M121.80,187.64 Q126.30,187.40 130.80,187.64 L130.80,189.05 Q126.30,189.35 121.80,189.05 Z" fill="#959595" opacity="1"/>
<path d="M119.70,197.84 Q124.10,197.60 128.50,197.84 L128.50,199.25 Q124.10,199.55 119.70,199.25 Z" fill="#5a5a5a" opacity="1"/>
<path d="M119.45,206.19 Q124.45,205.95 129.45,206.19 L129.45,208.30 Q124.45,208.60 119.45,208.30 Z" fill="#959595" opacity="1"/>
<path d="M119.70,213.82 Q124.45,213.50 129.20,213.82 L129.20,215.90 Q124.45,216.30 119.70,215.90 Z" fill="#585858" opacity="1"/>
<path d="M121.51,229.30 Q126.21,228.50 130.91,229.30 L130.91,233.60 Q126.21,234.60 121.51,233.60 Z" fill="#101010" opacity="1"/>
<path d="M119.50,245.60 Q124.50,244.80 129.50,245.60 L129.50,249.90 Q124.50,250.90 119.50,249.90 Z" fill="#0d0d0d" opacity="1"/>
<path d="M133.00,184.74 Q137.50,184.50 142.00,184.74 L142.00,185.95 Q137.50,186.25 133.00,185.95 Z" fill="#959595" opacity="1"/>
<path d="M133.00,187.64 Q137.50,187.40 142.00,187.64 L142.00,189.05 Q137.50,189.35 133.00,189.05 Z" fill="#959595" opacity="1"/>
<path d="M131.10,197.84 Q135.50,197.60 139.90,197.84 L139.90,199.25 Q135.50,199.55 131.10,199.25 Z" fill="#5a5a5a" opacity="1"/>
<path d="M130.90,206.19 Q135.90,205.95 140.90,206.19 L140.90,208.30 Q135.90,208.60 130.90,208.30 Z" fill="#959595" opacity="1"/>
<path d="M131.15,213.82 Q135.90,213.50 140.65,213.82 L140.65,215.90 Q135.90,216.30 131.15,215.90 Z" fill="#585858" opacity="1"/>
<path d="M132.94,229.30 Q137.64,228.50 142.34,229.30 L142.34,233.60 Q137.64,234.60 132.94,233.60 Z" fill="#101010" opacity="1"/>
<path d="M131.00,245.60 Q136.00,244.80 141.00,245.60 L141.00,249.90 Q136.00,250.90 131.00,249.90 Z" fill="#0d0d0d" opacity="1"/>
<path d="M144.20,184.74 Q148.70,184.50 153.20,184.74 L153.20,185.95 Q148.70,186.25 144.20,185.95 Z" fill="#959595" opacity="1"/>
<path d="M144.20,187.64 Q148.70,187.40 153.20,187.64 L153.20,189.05 Q148.70,189.35 144.20,189.05 Z" fill="#959595" opacity="1"/>
<path d="M142.50,197.84 Q146.90,197.60 151.30,197.84 L151.30,199.25 Q146.90,199.55 142.50,199.25 Z" fill="#5a5a5a" opacity="1"/>
<path d="M142.35,206.19 Q147.35,205.95 152.35,206.19 L152.35,208.30 Q147.35,208.60 142.35,208.30 Z" fill="#959595" opacity="1"/>
<path d="M142.60,213.82 Q147.35,213.50 152.10,213.82 L152.10,215.90 Q147.35,216.30 142.60,215.90 Z" fill="#585858" opacity="1"/>
<path d="M144.37,229.30 Q149.07,228.50 153.77,229.30 L153.77,233.60 Q149.07,234.60 144.37,233.60 Z" fill="#101010" opacity="1"/>
<path d="M142.50,245.60 Q147.50,244.80 152.50,245.60 L152.50,249.90 Q147.50,250.90 142.50,249.90 Z" fill="#0d0d0d" opacity="1"/>
<path d="M153.95,182.84 Q159.20,182.20 164.45,182.84 L164.45,184.60 Q159.20,185.40 153.95,184.60 Z" fill="#9a9a9a" opacity="1"/>
<path d="M154.40,184.50 Q159.20,186.10 164.00,184.50 Q165.30,186.70 163.40,188.90 Q159.20,190.50 155.00,188.90 Q153.10,186.70 154.40,184.50 Z" fill="#0d0d0d"/>
<path d="M153.80,195.40 Q158.30,196.80 162.80,195.40 Q164.10,197.40 162.20,199.40 Q158.30,200.80 154.40,199.40 Q152.50,197.40 153.80,195.40 Z" fill="#0d0d0d"/>
<path d="M154.30,200.72 Q158.30,200.40 162.30,200.72 L162.30,201.40 Q158.30,201.80 154.30,201.40 Z" fill="#b0b0b0" opacity="1"/>
<path d="M153.80,207.59 Q158.80,207.35 163.80,207.59 L163.80,209.70 Q158.80,210.00 153.80,209.70 Z" fill="#959595" opacity="1"/>
<path d="M154.15,215.20 Q158.80,216.60 163.45,215.20 Q164.75,216.90 162.85,218.60 Q158.80,220.00 154.75,218.60 Q152.85,216.90 154.15,215.20 Z" fill="#0d0d0d"/>
<path d="M154.15,230.70 Q159.30,232.10 164.45,230.70 Q165.75,233.80 163.85,236.90 Q159.30,238.30 154.75,236.90 Q152.85,233.80 154.15,230.70 Z" fill="#0d0d0d"/>
<path d="M154.00,245.90 Q159.00,245.10 164.00,245.90 L164.00,250.20 Q159.00,251.20 154.00,250.20 Z" fill="#0d0d0d" opacity="1"/>
<path d="M165.60,184.74 Q170.10,184.50 174.60,184.74 L174.60,185.95 Q170.10,186.25 165.60,185.95 Z" fill="#959595" opacity="1"/>
<path d="M165.60,187.64 Q170.10,187.40 174.60,187.64 L174.60,189.05 Q170.10,189.35 165.60,189.05 Z" fill="#959595" opacity="1"/>
<path d="M165.30,197.84 Q169.70,197.60 174.10,197.84 L174.10,199.25 Q169.70,199.55 165.30,199.25 Z" fill="#5a5a5a" opacity="1"/>
<path d="M165.25,207.59 Q170.25,207.35 175.25,207.59 L175.25,209.70 Q170.25,210.00 165.25,209.70 Z" fill="#959595" opacity="1"/>
<path d="M165.50,216.12 Q170.25,215.80 175.00,216.12 L175.00,218.20 Q170.25,218.60 165.50,218.20 Z" fill="#585858" opacity="1"/>
<path d="M167.23,232.30 Q171.93,231.50 176.63,232.30 L176.63,236.60 Q171.93,237.60 167.23,236.60 Z" fill="#101010" opacity="1"/>
<path d="M165.50,245.90 Q170.50,245.10 175.50,245.90 L175.50,250.20 Q170.50,251.20 165.50,250.20 Z" fill="#0d0d0d" opacity="1"/>
<path d="M176.80,184.74 Q181.30,184.50 185.80,184.74 L185.80,185.95 Q181.30,186.25 176.80,185.95 Z" fill="#959595" opacity="1"/>
<path d="M176.80,187.64 Q181.30,187.40 185.80,187.64 L185.80,189.05 Q181.30,189.35 176.80,189.05 Z" fill="#959595" opacity="1"/>
<path d="M176.70,197.84 Q181.10,197.60 185.50,197.84 L185.50,199.25 Q181.10,199.55 176.70,199.25 Z" fill="#5a5a5a" opacity="1"/>
<path d="M176.70,207.59 Q181.70,207.35 186.70,207.59 L186.70,209.70 Q181.70,210.00 176.70,209.70 Z" fill="#959595" opacity="1"/>
<path d="M176.95,216.12 Q181.70,215.80 186.45,216.12 L186.45,218.20 Q181.70,218.60 176.95,218.20 Z" fill="#585858" opacity="1"/>
<path d="M178.66,232.30 Q183.36,231.50 188.06,232.30 L188.06,236.60 Q183.36,237.60 178.66,236.60 Z" fill="#101010" opacity="1"/>
<path d="M177.00,245.90 Q182.00,245.10 187.00,245.90 L187.00,250.20 Q182.00,251.20 177.00,250.20 Z" fill="#0d0d0d" opacity="1"/>
<path d="M188.10,184.74 Q192.60,184.50 197.10,184.74 L197.10,185.95 Q192.60,186.25 188.10,185.95 Z" fill="#959595" opacity="1"/>
<path d="M188.10,187.64 Q192.60,187.40 197.10,187.64 L197.10,189.05 Q192.60,189.35 188.10,189.05 Z" fill="#959595" opacity="1"/>
<path d="M188.10,197.84 Q192.50,197.60 196.90,197.84 L196.90,199.25 Q192.50,199.55 188.10,199.25 Z" fill="#5a5a5a" opacity="1"/>
<path d="M188.15,207.59 Q193.15,207.35 198.15,207.59 L198.15,209.70 Q193.15,210.00 188.15,209.70 Z" fill="#959595" opacity="1"/>
<path d="M188.40,216.12 Q193.15,215.80 197.90,216.12 L197.90,218.20 Q193.15,218.60 188.40,218.20 Z" fill="#585858" opacity="1"/>
<path d="M190.09,232.30 Q194.79,231.50 199.49,232.30 L199.49,236.60 Q194.79,237.60 190.09,236.60 Z" fill="#101010" opacity="1"/>
<path d="M188.50,245.90 Q193.50,245.10 198.50,245.90 L198.50,250.20 Q193.50,251.20 188.50,250.20 Z" fill="#0d0d0d" opacity="1"/>
<path d="M200.30,184.74 Q204.80,184.50 209.30,184.74 L209.30,185.95 Q204.80,186.25 200.30,185.95 Z" fill="#959595" opacity="1"/>
<path d="M200.30,187.64 Q204.80,187.40 209.30,187.64 L209.30,189.05 Q204.80,189.35 200.30,189.05 Z" fill="#959595" opacity="1"/>
<path d="M199.50,197.84 Q203.90,197.60 208.30,197.84 L208.30,199.25 Q203.90,199.55 199.50,199.25 Z" fill="#5a5a5a" opacity="1"/>
<path d="M199.60,207.59 Q204.60,207.35 209.60,207.59 L209.60,209.70 Q204.60,210.00 199.60,209.70 Z" fill="#959595" opacity="1"/>
<path d="M199.85,216.12 Q204.60,215.80 209.35,216.12 L209.35,218.20 Q204.60,218.60 199.85,218.20 Z" fill="#585858" opacity="1"/>
<path d="M201.52,232.30 Q206.22,231.50 210.92,232.30 L210.92,236.60 Q206.22,237.60 201.52,236.60 Z" fill="#101010" opacity="1"/>
<path d="M200.00,245.90 Q205.00,245.10 210.00,245.90 L210.00,250.20 Q205.00,251.20 200.00,250.20 Z" fill="#0d0d0d" opacity="1"/>
</g>
<text x="214.10" y="188.27" font-size="6.3" text-anchor="start" fill="#231f20" textLength="15.00" lengthAdjust="spacingAndGlyphs">IKZF1</text>
<text x="214.10" y="200.87" font-size="6.3" text-anchor="start" fill="#231f20" textLength="15.20" lengthAdjust="spacingAndGlyphs">IKZF3</text>
<text x="214.10" y="220.97" font-size="6.3" text-anchor="start" fill="#231f20" textLength="14.40" lengthAdjust="spacingAndGlyphs">CK1α</text>
<text x="214.10" y="237.77" font-size="6.3" text-anchor="start" fill="#231f20" textLength="12.00" lengthAdjust="spacingAndGlyphs">IRF4</text>
<text x="214.10" y="250.07" font-size="6.3" text-anchor="start" fill="#231f20" textLength="20.70" lengthAdjust="spacingAndGlyphs">GAPDH</text>
<text x="213.00" y="215.30" font-size="9" text-anchor="start" fill="#231f20">*</text>
<text x="254.60" y="152.30" font-size="10.8" text-anchor="start" fill="#231f20">E</text>
<text x="298.60" y="167.07" font-size="6.3" text-anchor="start" fill="#231f20" textLength="4.90" lengthAdjust="spacingAndGlyphs">sg</text>
<line x1="288.80" y1="171.10" x2="332.60" y2="171.10" stroke="#231f20" stroke-width="1.1"/>
<text x="306.70" y="167.07" font-size="6.3" text-anchor="start" fill="#231f20" textLength="16.30" lengthAdjust="spacingAndGlyphs">AAVS1</text>
<text x="342.60" y="167.07" font-size="6.3" text-anchor="start" fill="#231f20" textLength="18.00" lengthAdjust="spacingAndGlyphs">SENP8</text>
<line x1="337.50" y1="171.10" x2="377.10" y2="171.10" stroke="#231f20" stroke-width="1.1"/>
<text x="361.50" y="167.07" font-size="6.3" text-anchor="start" fill="#231f20" textLength="9.90" lengthAdjust="spacingAndGlyphs">sg1</text>
<text x="385.70" y="167.07" font-size="6.3" text-anchor="start" fill="#231f20" textLength="17.50" lengthAdjust="spacingAndGlyphs">SENP8</text>
<line x1="381.00" y1="171.10" x2="422.20" y2="171.10" stroke="#231f20" stroke-width="1.1"/>
<text x="404.60" y="167.07" font-size="6.3" text-anchor="start" fill="#231f20" textLength="10.70" lengthAdjust="spacingAndGlyphs">sg2</text>
<text x="284.50" y="177.65" font-size="6.8" text-anchor="end" fill="#231f20" textLength="12.30" lengthAdjust="spacingAndGlyphs">days</text>
<text x="284.50" y="185.15" font-size="6.8" text-anchor="end" fill="#231f20" textLength="28.50" lengthAdjust="spacingAndGlyphs">(1μM Pom)</text>
<text x="294.50" y="179.95" font-size="6.8" text-anchor="middle" fill="#231f20">0</text>
<text x="305.40" y="179.95" font-size="6.8" text-anchor="middle" fill="#231f20">2</text>
<text x="318.50" y="179.95" font-size="6.8" text-anchor="middle" fill="#231f20">4</text>
<text x="329.00" y="179.95" font-size="6.8" text-anchor="middle" fill="#231f20">6</text>
<text x="339.70" y="179.95" font-size="6.8" text-anchor="middle" fill="#231f20">0</text>
<text x="351.10" y="179.95" font-size="6.8" text-anchor="middle" fill="#231f20">2</text>
<text x="363.90" y="179.95" font-size="6.8" text-anchor="middle" fill="#231f20">4</text>
<text x="374.60" y="179.95" font-size="6.8" text-anchor="middle" fill="#231f20">6</text>
<text x="384.80" y="179.95" font-size="6.8" text-anchor="middle" fill="#231f20">0</text>
<text x="396.20" y="179.95" font-size="6.8" text-anchor="middle" fill="#231f20">2</text>
<text x="409.00" y="179.95" font-size="6.8" text-anchor="middle" fill="#231f20">4</text>
<text x="419.20" y="179.95" font-size="6.8" text-anchor="middle" fill="#231f20">6</text>
<rect x="288.40" y="182.00" width="136.20" height="9.80" fill="#efefef" filter="url(#noise)"/>
<rect x="288.40" y="193.80" width="136.20" height="10.80" fill="#eeeeee" filter="url(#noise)"/>
<rect x="288.40" y="206.40" width="136.20" height="18.70" fill="#dcdcdc" filter="url(#noise)"/>
<rect x="288.40" y="226.80" width="136.20" height="10.90" fill="#e6e6e6" filter="url(#noise)"/>
<rect x="288.40" y="239.40" width="136.20" height="9.60" fill="#d8d8d8" filter="url(#noise)"/>
<g filter="url(#b05)">
<path d="M290.00,185.30 Q294.90,186.70 299.80,185.30 Q301.10,187.45 299.20,189.60 Q294.90,191.00 290.60,189.60 Q288.70,187.45 290.00,185.30 Z" fill="#0d0d0d"/>
<path d="M290.25,197.20 Q294.90,198.60 299.55,197.20 Q300.85,199.25 298.95,201.30 Q294.90,202.70 290.85,201.30 Q288.95,199.25 290.25,197.20 Z" fill="#0d0d0d"/>
<path d="M290.40,202.41 Q294.90,202.25 299.40,202.41 L299.40,203.25 Q294.90,203.45 290.40,203.25 Z" fill="#999999" opacity="1"/>
<path d="M290.15,210.44 Q294.90,209.80 299.65,210.44 L299.65,212.20 Q294.90,213.00 290.15,212.20 Z" fill="#858585" opacity="1"/>
<path d="M290.25,219.60 Q294.90,221.00 299.55,219.60 Q300.85,221.25 298.95,222.90 Q294.90,224.30 290.85,222.90 Q288.95,221.25 290.25,219.60 Z" fill="#0d0d0d"/>
<path d="M290.00,229.30 Q294.90,230.70 299.80,229.30 Q301.10,231.60 299.20,233.90 Q294.90,235.30 290.60,233.90 Q288.70,231.60 290.00,229.30 Z" fill="#0d0d0d"/>
<path d="M289.90,242.79 Q294.90,242.15 299.90,242.79 L299.90,246.65 Q294.90,247.45 289.90,246.65 Z" fill="#0d0d0d" opacity="1"/>
<path d="M302.65,199.06 Q306.15,198.90 309.65,199.06 L309.65,199.80 Q306.15,200.00 302.65,199.80 Z" fill="#d6d6d6" opacity="1"/>
<path d="M301.40,210.36 Q306.15,209.72 310.90,210.36 L310.90,212.12 Q306.15,212.92 301.40,212.12 Z" fill="#858585" opacity="1"/>
<path d="M301.15,219.86 Q306.15,219.46 311.15,219.86 L311.15,222.51 Q306.15,223.01 301.15,222.51 Z" fill="#202020" opacity="1"/>
<path d="M301.65,230.54 Q306.15,229.90 310.65,230.54 L310.65,232.70 Q306.15,233.50 301.65,232.70 Z" fill="#777777" opacity="1"/>
<path d="M301.15,242.61 Q306.15,241.97 311.15,242.61 L311.15,246.47 Q306.15,247.27 301.15,246.47 Z" fill="#0d0d0d" opacity="1"/>
<path d="M312.65,210.28 Q317.40,209.64 322.15,210.28 L322.15,212.04 Q317.40,212.84 312.65,212.04 Z" fill="#858585" opacity="1"/>
<path d="M312.40,219.77 Q317.40,219.37 322.40,219.77 L322.40,222.42 Q317.40,222.92 312.40,222.42 Z" fill="#505050" opacity="1"/>
<path d="M312.90,230.44 Q317.40,229.80 321.90,230.44 L321.90,232.60 Q317.40,233.40 312.90,232.60 Z" fill="#9a9a9a" opacity="1"/>
<path d="M312.40,242.43 Q317.40,241.79 322.40,242.43 L322.40,246.29 Q317.40,247.09 312.40,246.29 Z" fill="#0d0d0d" opacity="1"/>
<path d="M323.90,210.19 Q328.65,209.55 333.40,210.19 L333.40,211.95 Q328.65,212.75 323.90,211.95 Z" fill="#858585" opacity="1"/>
<path d="M323.65,219.68 Q328.65,219.28 333.65,219.68 L333.65,222.33 Q328.65,222.83 323.65,222.33 Z" fill="#707070" opacity="1"/>
<path d="M324.15,230.34 Q328.65,229.70 333.15,230.34 L333.15,232.50 Q328.65,233.30 324.15,232.50 Z" fill="#b0b0b0" opacity="1"/>
<path d="M323.65,242.24 Q328.65,241.60 333.65,242.24 L333.65,246.10 Q328.65,246.90 323.65,246.10 Z" fill="#0d0d0d" opacity="1"/>
<path d="M335.00,185.30 Q339.90,186.70 344.80,185.30 Q346.10,187.45 344.20,189.60 Q339.90,191.00 335.60,189.60 Q333.70,187.45 335.00,185.30 Z" fill="#0d0d0d"/>
<path d="M335.25,197.20 Q339.90,198.60 344.55,197.20 Q345.85,199.25 343.95,201.30 Q339.90,202.70 335.85,201.30 Q333.95,199.25 335.25,197.20 Z" fill="#0d0d0d"/>
<path d="M335.40,202.41 Q339.90,202.25 344.40,202.41 L344.40,203.25 Q339.90,203.45 335.40,203.25 Z" fill="#999999" opacity="1"/>
<path d="M335.15,210.11 Q339.90,209.47 344.65,210.11 L344.65,211.87 Q339.90,212.67 335.15,211.87 Z" fill="#858585" opacity="1"/>
<path d="M335.25,218.04 Q339.90,219.44 344.55,218.04 Q345.85,219.69 343.95,221.34 Q339.90,222.74 335.85,221.34 Q333.95,219.69 335.25,218.04 Z" fill="#1a1a1a"/>
<path d="M335.00,228.90 Q339.90,230.30 344.80,228.90 Q346.10,231.20 344.20,233.50 Q339.90,234.90 335.60,233.50 Q333.70,231.20 335.00,228.90 Z" fill="#0d0d0d"/>
<path d="M334.90,242.06 Q339.90,241.42 344.90,242.06 L344.90,245.92 Q339.90,246.72 334.90,245.92 Z" fill="#0d0d0d" opacity="1"/>
<path d="M347.65,199.06 Q351.15,198.90 354.65,199.06 L354.65,199.80 Q351.15,200.00 347.65,199.80 Z" fill="#d6d6d6" opacity="1"/>
<path d="M346.40,210.03 Q351.15,209.39 355.90,210.03 L355.90,211.79 Q351.15,212.59 346.40,211.79 Z" fill="#858585" opacity="1"/>
<path d="M346.15,219.50 Q351.15,219.10 356.15,219.50 L356.15,222.15 Q351.15,222.65 346.15,222.15 Z" fill="#333333" opacity="1"/>
<path d="M346.65,230.14 Q351.15,229.50 355.65,230.14 L355.65,232.30 Q351.15,233.10 346.65,232.30 Z" fill="#808080" opacity="1"/>
<path d="M346.15,241.88 Q351.15,241.24 356.15,241.88 L356.15,245.74 Q351.15,246.54 346.15,245.74 Z" fill="#0d0d0d" opacity="1"/>
<path d="M357.65,209.95 Q362.40,209.31 367.15,209.95 L367.15,211.71 Q362.40,212.51 357.65,211.71 Z" fill="#858585" opacity="1"/>
<path d="M357.40,219.40 Q362.40,219.00 367.40,219.40 L367.40,222.05 Q362.40,222.55 357.40,222.05 Z" fill="#3a3a3a" opacity="1"/>
<path d="M357.90,230.04 Q362.40,229.40 366.90,230.04 L366.90,232.20 Q362.40,233.00 357.90,232.20 Z" fill="#a8a8a8" opacity="1"/>
<path d="M357.40,241.70 Q362.40,241.06 367.40,241.70 L367.40,245.56 Q362.40,246.36 357.40,245.56 Z" fill="#0d0d0d" opacity="1"/>
<path d="M368.90,209.87 Q373.65,209.23 378.40,209.87 L378.40,211.63 Q373.65,212.43 368.90,211.63 Z" fill="#858585" opacity="1"/>
<path d="M368.65,219.31 Q373.65,218.91 378.65,219.31 L378.65,221.96 Q373.65,222.46 368.65,221.96 Z" fill="#555555" opacity="1"/>
<path d="M369.15,229.94 Q373.65,229.30 378.15,229.94 L378.15,232.10 Q373.65,232.90 369.15,232.10 Z" fill="#bdbdbd" opacity="1"/>
<path d="M368.65,241.52 Q373.65,240.88 378.65,241.52 L378.65,245.38 Q373.65,246.18 368.65,245.38 Z" fill="#0d0d0d" opacity="1"/>
<path d="M380.00,185.30 Q384.90,186.70 389.80,185.30 Q391.10,187.45 389.20,189.60 Q384.90,191.00 380.60,189.60 Q378.70,187.45 380.00,185.30 Z" fill="#0d0d0d"/>
<path d="M380.25,197.20 Q384.90,198.60 389.55,197.20 Q390.85,199.25 388.95,201.30 Q384.90,202.70 380.85,201.30 Q378.95,199.25 380.25,197.20 Z" fill="#0d0d0d"/>
<path d="M380.40,202.41 Q384.90,202.25 389.40,202.41 L389.40,203.25 Q384.90,203.45 380.40,203.25 Z" fill="#999999" opacity="1"/>
<path d="M380.15,209.79 Q384.90,209.15 389.65,209.79 L389.65,211.55 Q384.90,212.35 380.15,211.55 Z" fill="#858585" opacity="1"/>
<path d="M380.25,217.67 Q384.90,219.07 389.55,217.67 Q390.85,219.32 388.95,220.97 Q384.90,222.37 380.85,220.97 Q378.95,219.32 380.25,217.67 Z" fill="#1a1a1a"/>
<path d="M380.00,228.50 Q384.90,229.90 389.80,228.50 Q391.10,230.80 389.20,233.10 Q384.90,234.50 380.60,233.10 Q378.70,230.80 380.00,228.50 Z" fill="#0d0d0d"/>
<path d="M379.90,241.34 Q384.90,240.70 389.90,241.34 L389.90,245.20 Q384.90,246.00 379.90,245.20 Z" fill="#0d0d0d" opacity="1"/>
<path d="M392.65,199.06 Q396.15,198.90 399.65,199.06 L399.65,199.80 Q396.15,200.00 392.65,199.80 Z" fill="#d6d6d6" opacity="1"/>
<path d="M391.40,209.70 Q396.15,209.06 400.90,209.70 L400.90,211.46 Q396.15,212.26 391.40,211.46 Z" fill="#858585" opacity="1"/>
<path d="M391.15,219.13 Q396.15,218.73 401.15,219.13 L401.15,221.78 Q396.15,222.28 391.15,221.78 Z" fill="#303030" opacity="1"/>
<path d="M391.65,229.74 Q396.15,229.10 400.65,229.74 L400.65,231.90 Q396.15,232.70 391.65,231.90 Z" fill="#8a8a8a" opacity="1"/>
<path d="M391.15,241.15 Q396.15,240.51 401.15,241.15 L401.15,245.01 Q396.15,245.81 391.15,245.01 Z" fill="#0d0d0d" opacity="1"/>
<path d="M402.65,209.62 Q407.40,208.98 412.15,209.62 L412.15,211.38 Q407.40,212.18 402.65,211.38 Z" fill="#858585" opacity="1"/>
<path d="M402.40,219.04 Q407.40,218.64 412.40,219.04 L412.40,221.69 Q407.40,222.19 402.40,221.69 Z" fill="#505050" opacity="1"/>
<path d="M402.90,229.64 Q407.40,229.00 411.90,229.64 L411.90,231.80 Q407.40,232.60 402.90,231.80 Z" fill="#aaaaaa" opacity="1"/>
<path d="M402.40,240.97 Q407.40,240.33 412.40,240.97 L412.40,244.83 Q407.40,245.63 402.40,244.83 Z" fill="#0d0d0d" opacity="1"/>
<path d="M413.90,209.54 Q418.65,208.90 423.40,209.54 L423.40,211.30 Q418.65,212.10 413.90,211.30 Z" fill="#858585" opacity="1"/>
<path d="M413.65,218.95 Q418.65,218.55 423.65,218.95 L423.65,221.60 Q418.65,222.10 413.65,221.60 Z" fill="#5a5a5a" opacity="1"/>
<path d="M414.15,229.54 Q418.65,228.90 423.15,229.54 L423.15,231.70 Q418.65,232.50 414.15,231.70 Z" fill="#a8a8a8" opacity="1"/>
<path d="M413.65,240.79 Q418.65,240.15 423.65,240.79 L423.65,244.65 Q418.65,245.45 413.65,244.65 Z" fill="#0d0d0d" opacity="1"/>
</g>
<text x="428.90" y="188.67" font-size="6.3" text-anchor="start" fill="#231f20" textLength="15.00" lengthAdjust="spacingAndGlyphs">IKZF1</text>
<text x="428.90" y="200.67" font-size="6.3" text-anchor="start" fill="#231f20" textLength="15.20" lengthAdjust="spacingAndGlyphs">IKZF3</text>
<text x="428.90" y="221.57" font-size="6.3" text-anchor="start" fill="#231f20" textLength="14.40" lengthAdjust="spacingAndGlyphs">CK1α</text>
<text x="428.90" y="233.77" font-size="6.3" text-anchor="start" fill="#231f20" textLength="12.00" lengthAdjust="spacingAndGlyphs">IRF4</text>
<text x="428.90" y="246.07" font-size="6.3" text-anchor="start" fill="#231f20" textLength="20.70" lengthAdjust="spacingAndGlyphs">GAPDH</text>
<text x="427.20" y="215.40" font-size="9" text-anchor="start" fill="#231f20">*</text>
<text x="8.80" y="274.60" font-size="10.2" text-anchor="start" fill="#231f20">F</text>
<text transform="translate(14.0 374.2) rotate(-90)" font-size="8.7" fill="#231f20" textLength="87.4" lengthAdjust="spacingAndGlyphs">Relative cell viability (%)</text>
<text x="80.05" y="287.09" font-size="7.2" text-anchor="middle" fill="#231f20" textLength="36.30" lengthAdjust="spacingAndGlyphs">BC-3/Cas9</text>
<line x1="36.50" y1="293.70" x2="36.50" y2="367.80" stroke="#231f20" stroke-width="1"/>
<line x1="36.00" y1="367.30" x2="123.00" y2="367.30" stroke="#231f20" stroke-width="1"/>
<line x1="33.90" y1="367.30" x2="36.50" y2="367.30" stroke="#231f20" stroke-width="0.9"/>
<text x="30.50" y="369.32" font-size="5.6" text-anchor="end" fill="#231f20">0</text>
<line x1="33.90" y1="353.05" x2="36.50" y2="353.05" stroke="#231f20" stroke-width="0.9"/>
<text x="30.50" y="355.07" font-size="5.6" text-anchor="end" fill="#231f20">25</text>
<line x1="33.90" y1="338.80" x2="36.50" y2="338.80" stroke="#231f20" stroke-width="0.9"/>
<text x="30.50" y="340.82" font-size="5.6" text-anchor="end" fill="#231f20">50</text>
<line x1="33.90" y1="324.55" x2="36.50" y2="324.55" stroke="#231f20" stroke-width="0.9"/>
<text x="30.50" y="326.57" font-size="5.6" text-anchor="end" fill="#231f20">75</text>
<line x1="33.90" y1="310.30" x2="36.50" y2="310.30" stroke="#231f20" stroke-width="0.9"/>
<text x="30.50" y="312.32" font-size="5.6" text-anchor="end" fill="#231f20">100</text>
<line x1="33.90" y1="296.05" x2="36.50" y2="296.05" stroke="#231f20" stroke-width="0.9"/>
<text x="30.50" y="298.07" font-size="5.6" text-anchor="end" fill="#231f20">125</text>
<line x1="36.90" y1="367.30" x2="36.90" y2="370.00" stroke="#231f20" stroke-width="0.9"/>
<text x="36.50" y="379.03" font-size="6.2" text-anchor="middle" fill="#231f20" textLength="10.00" lengthAdjust="spacingAndGlyphs">-1.0</text>
<line x1="50.97" y1="367.30" x2="50.97" y2="370.00" stroke="#231f20" stroke-width="0.9"/>
<text x="50.57" y="379.03" font-size="6.2" text-anchor="middle" fill="#231f20" textLength="10.00" lengthAdjust="spacingAndGlyphs">-0.5</text>
<line x1="65.05" y1="367.30" x2="65.05" y2="370.00" stroke="#231f20" stroke-width="0.9"/>
<text x="65.05" y="379.03" font-size="6.2" text-anchor="middle" fill="#231f20" textLength="8.40" lengthAdjust="spacingAndGlyphs">0.0</text>
<line x1="79.12" y1="367.30" x2="79.12" y2="370.00" stroke="#231f20" stroke-width="0.9"/>
<text x="79.12" y="379.03" font-size="6.2" text-anchor="middle" fill="#231f20" textLength="8.40" lengthAdjust="spacingAndGlyphs">0.5</text>
<line x1="93.20" y1="367.30" x2="93.20" y2="370.00" stroke="#231f20" stroke-width="0.9"/>
<text x="93.20" y="379.03" font-size="6.2" text-anchor="middle" fill="#231f20" textLength="8.40" lengthAdjust="spacingAndGlyphs">1.0</text>
<line x1="107.28" y1="367.30" x2="107.28" y2="370.00" stroke="#231f20" stroke-width="0.9"/>
<text x="107.28" y="379.03" font-size="6.2" text-anchor="middle" fill="#231f20" textLength="8.40" lengthAdjust="spacingAndGlyphs">1.5</text>
<line x1="121.35" y1="367.30" x2="121.35" y2="370.00" stroke="#231f20" stroke-width="0.9"/>
<text x="121.35" y="379.03" font-size="6.2" text-anchor="middle" fill="#231f20" textLength="8.40" lengthAdjust="spacingAndGlyphs">2.0</text>
<text x="79.70" y="391.42" font-size="8.4" text-anchor="middle" fill="#231f20" textLength="46.50" lengthAdjust="spacingAndGlyphs">log Len (μM)</text>
<polyline points="45.34,309.73 45.91,309.73 46.47,309.73 47.03,309.73 47.60,309.73 48.16,309.73 48.72,309.73 49.29,309.73 49.85,309.73 50.41,309.73 50.97,309.73 51.54,309.73 52.10,309.73 52.66,309.73 53.23,309.73 53.79,309.73 54.35,309.73 54.92,309.73 55.48,309.73 56.04,309.73 56.61,309.73 57.17,309.73 57.73,309.73 58.29,309.73 58.86,309.73 59.42,309.73 59.98,309.73 60.55,309.74 61.11,309.74 61.67,309.74 62.23,309.74 62.80,309.74 63.36,309.74 63.92,309.74 64.49,309.74 65.05,309.75 65.61,309.75 66.18,309.75 66.74,309.75 67.30,309.76 67.86,309.76 68.43,309.77 68.99,309.77 69.55,309.78 70.12,309.78 70.68,309.79 71.24,309.80 71.81,309.81 72.37,309.82 72.93,309.84 73.50,309.85 74.06,309.87 74.62,309.89 75.18,309.91 75.75,309.94 76.31,309.97 76.87,310.00 77.44,310.04 78.00,310.08 78.56,310.12 79.12,310.18 79.69,310.23 80.25,310.30 80.81,310.37 81.38,310.45 81.94,310.53 82.50,310.62 83.07,310.72 83.63,310.83 84.19,310.94 84.75,311.06 85.32,311.19 85.88,311.32 86.44,311.45 87.01,311.59 87.57,311.73 88.13,311.86 88.70,312.00 89.26,312.13 89.82,312.26 90.38,312.39 90.95,312.51 91.51,312.62 92.07,312.73 92.64,312.83 93.20,312.92 93.76,313.00 94.33,313.08 94.89,313.15 95.45,313.22 96.02,313.27 96.58,313.33 97.14,313.37 97.70,313.41 98.27,313.45 98.83,313.48 99.39,313.51 99.96,313.54 100.52,313.56 101.08,313.58 101.64,313.60 102.21,313.61 102.77,313.63 103.33,313.64 103.90,313.65 104.46,313.66 105.02,313.67 105.59,313.67 106.15,313.68 106.71,313.68 107.28,313.69 107.84,313.69 108.40,313.70 108.96,313.70 109.53,313.70 110.09,313.70 110.65,313.71 111.22,313.71 111.78,313.71 112.34,313.71 112.91,313.71" fill="none" stroke="#a52a3c" stroke-width="1.2"/>
<path d="M45.34,300.78V311.04M43.95,300.78h2.8M43.95,311.04h2.8" stroke="#a52a3c" stroke-width="0.9" fill="none"/>
<circle cx="45.34" cy="305.91" r="1.35" fill="#a52a3c"/>
<path d="M53.79,304.88V315.15M52.39,304.88h2.8M52.39,315.15h2.8" stroke="#a52a3c" stroke-width="0.9" fill="none"/>
<circle cx="53.79" cy="310.01" r="1.35" fill="#a52a3c"/>
<path d="M62.23,308.76V319.02M60.84,308.76h2.8M60.84,319.02h2.8" stroke="#a52a3c" stroke-width="0.9" fill="none"/>
<circle cx="62.23" cy="313.89" r="1.35" fill="#a52a3c"/>
<path d="M70.68,306.54V312.24M69.28,306.54h2.8M69.28,312.24h2.8" stroke="#a52a3c" stroke-width="0.9" fill="none"/>
<circle cx="70.68" cy="309.39" r="1.35" fill="#a52a3c"/>
<path d="M79.12,302.49V310.47M77.72,302.49h2.8M77.72,310.47h2.8" stroke="#a52a3c" stroke-width="0.9" fill="none"/>
<circle cx="79.12" cy="306.48" r="1.35" fill="#a52a3c"/>
<path d="M87.57,303.57V317.25M86.17,303.57h2.8M86.17,317.25h2.8" stroke="#a52a3c" stroke-width="0.9" fill="none"/>
<circle cx="87.57" cy="310.41" r="1.35" fill="#a52a3c"/>
<path d="M96.02,306.42V315.54M94.61,306.42h2.8M94.61,315.54h2.8" stroke="#a52a3c" stroke-width="0.9" fill="none"/>
<circle cx="96.02" cy="310.98" r="1.35" fill="#a52a3c"/>
<path d="M104.46,309.90V316.74M103.06,309.90h2.8M103.06,316.74h2.8" stroke="#a52a3c" stroke-width="0.9" fill="none"/>
<circle cx="104.46" cy="313.32" r="1.35" fill="#a52a3c"/>
<path d="M112.91,309.90V317.88M111.50,309.90h2.8M111.50,317.88h2.8" stroke="#a52a3c" stroke-width="0.9" fill="none"/>
<circle cx="112.91" cy="313.89" r="1.35" fill="#a52a3c"/>
<polyline points="45.34,308.69 45.91,308.70 46.47,308.71 47.03,308.73 47.60,308.75 48.16,308.76 48.72,308.79 49.29,308.81 49.85,308.84 50.41,308.87 50.97,308.91 51.54,308.95 52.10,308.99 52.66,309.04 53.23,309.10 53.79,309.16 54.35,309.23 54.92,309.31 55.48,309.40 56.04,309.50 56.61,309.61 57.17,309.74 57.73,309.87 58.29,310.03 58.86,310.20 59.42,310.39 59.98,310.61 60.55,310.84 61.11,311.11 61.67,311.39 62.23,311.71 62.80,312.06 63.36,312.44 63.92,312.86 64.49,313.31 65.05,313.80 65.61,314.33 66.18,314.90 66.74,315.51 67.30,316.16 67.86,316.84 68.43,317.56 68.99,318.31 69.55,319.09 70.12,319.90 70.68,320.72 71.24,321.56 71.81,322.41 72.37,323.27 72.93,324.12 73.50,324.96 74.06,325.78 74.62,326.59 75.18,327.37 75.75,328.12 76.31,328.84 76.87,329.52 77.44,330.17 78.00,330.78 78.56,331.35 79.12,331.88 79.69,332.37 80.25,332.82 80.81,333.24 81.38,333.62 81.94,333.97 82.50,334.29 83.07,334.57 83.63,334.84 84.19,335.07 84.75,335.29 85.32,335.48 85.88,335.65 86.44,335.81 87.01,335.94 87.57,336.07 88.13,336.18 88.70,336.28 89.26,336.37 89.82,336.45 90.38,336.52 90.95,336.58 91.51,336.64 92.07,336.69 92.64,336.73 93.20,336.77 93.76,336.81 94.33,336.84 94.89,336.87 95.45,336.89 96.02,336.92 96.58,336.93 97.14,336.95 97.70,336.97 98.27,336.98 98.83,336.99 99.39,337.00 99.96,337.01 100.52,337.02 101.08,337.03 101.64,337.04 102.21,337.04 102.77,337.05 103.33,337.05 103.90,337.06 104.46,337.06 105.02,337.06 105.59,337.07 106.15,337.07 106.71,337.07 107.28,337.07 107.84,337.08 108.40,337.08 108.96,337.08 109.53,337.08 110.09,337.08 110.65,337.08 111.22,337.08 111.78,337.08 112.34,337.08 112.91,337.09" fill="none" stroke="#66ae4a" stroke-width="1.2"/>
<path d="M45.34,307.11V310.53M43.95,307.11h2.8M43.95,310.53h2.8" stroke="#66ae4a" stroke-width="0.9" fill="none"/>
<rect x="44.14" y="307.62" width="2.40" height="2.40" fill="#66ae4a"/>
<path d="M53.79,310.41V314.97M52.39,310.41h2.8M52.39,314.97h2.8" stroke="#66ae4a" stroke-width="0.9" fill="none"/>
<rect x="52.59" y="311.49" width="2.40" height="2.40" fill="#66ae4a"/>
<path d="M62.23,317.71V322.27M60.84,317.71h2.8M60.84,322.27h2.8" stroke="#66ae4a" stroke-width="0.9" fill="none"/>
<rect x="61.03" y="318.79" width="2.40" height="2.40" fill="#66ae4a"/>
<path d="M70.68,323.41V330.25M69.28,323.41h2.8M69.28,330.25h2.8" stroke="#66ae4a" stroke-width="0.9" fill="none"/>
<rect x="69.48" y="325.63" width="2.40" height="2.40" fill="#66ae4a"/>
<path d="M79.12,334.64V339.20M77.72,334.64h2.8M77.72,339.20h2.8" stroke="#66ae4a" stroke-width="0.9" fill="none"/>
<rect x="77.92" y="335.72" width="2.40" height="2.40" fill="#66ae4a"/>
<rect x="86.37" y="339.20" width="2.40" height="2.40" fill="#66ae4a"/>
<path d="M96.02,333.90V337.32M94.61,333.90h2.8M94.61,337.32h2.8" stroke="#66ae4a" stroke-width="0.9" fill="none"/>
<rect x="94.81" y="334.41" width="2.40" height="2.40" fill="#66ae4a"/>
<path d="M104.46,334.47V337.89M103.06,334.47h2.8M103.06,337.89h2.8" stroke="#66ae4a" stroke-width="0.9" fill="none"/>
<rect x="103.26" y="334.98" width="2.40" height="2.40" fill="#66ae4a"/>
<path d="M112.91,335.95V338.23M111.50,335.95h2.8M111.50,338.23h2.8" stroke="#66ae4a" stroke-width="0.9" fill="none"/>
<rect x="111.70" y="335.89" width="2.40" height="2.40" fill="#66ae4a"/>
<polyline points="45.34,316.58 45.91,316.58 46.47,316.58 47.03,316.58 47.60,316.58 48.16,316.58 48.72,316.59 49.29,316.59 49.85,316.59 50.41,316.60 50.97,316.60 51.54,316.61 52.10,316.62 52.66,316.62 53.23,316.63 53.79,316.64 54.35,316.66 54.92,316.67 55.48,316.69 56.04,316.71 56.61,316.74 57.17,316.76 57.73,316.80 58.29,316.84 58.86,316.88 59.42,316.94 59.98,317.00 60.55,317.08 61.11,317.16 61.67,317.27 62.23,317.39 62.80,317.53 63.36,317.69 63.92,317.88 64.49,318.10 65.05,318.35 65.61,318.65 66.18,318.99 66.74,319.38 67.30,319.84 67.86,320.35 68.43,320.94 68.99,321.61 69.55,322.36 70.12,323.21 70.68,324.15 71.24,325.19 71.81,326.32 72.37,327.56 72.93,328.89 73.50,330.30 74.06,331.79 74.62,333.33 75.18,334.92 75.75,336.52 76.31,338.12 76.87,339.71 77.44,341.25 78.00,342.74 78.56,344.15 79.12,345.48 79.69,346.72 80.25,347.85 80.81,348.89 81.38,349.83 81.94,350.68 82.50,351.43 83.07,352.10 83.63,352.69 84.19,353.20 84.75,353.66 85.32,354.05 85.88,354.39 86.44,354.69 87.01,354.94 87.57,355.16 88.13,355.35 88.70,355.51 89.26,355.65 89.82,355.77 90.38,355.88 90.95,355.96 91.51,356.04 92.07,356.10 92.64,356.16 93.20,356.20 93.76,356.24 94.33,356.28 94.89,356.30 95.45,356.33 96.02,356.35 96.58,356.37 97.14,356.38 97.70,356.40 98.27,356.41 98.83,356.42 99.39,356.42 99.96,356.43 100.52,356.44 101.08,356.44 101.64,356.45 102.21,356.45 102.77,356.45 103.33,356.46 103.90,356.46 104.46,356.46 105.02,356.46 105.59,356.46 106.15,356.46 106.71,356.46 107.28,356.47 107.84,356.47 108.40,356.47 108.96,356.47 109.53,356.47 110.09,356.47 110.65,356.47 111.22,356.47 111.78,356.47 112.34,356.47 112.91,356.47" fill="none" stroke="#5a2d62" stroke-width="1.2"/>
<path d="M45.34,312.58V321.70M43.95,312.58h2.8M43.95,321.70h2.8" stroke="#5a2d62" stroke-width="0.9" fill="none"/>
<circle cx="45.34" cy="317.14" r="1.35" fill="#5a2d62"/>
<path d="M53.79,312.98V323.24M52.39,312.98h2.8M52.39,323.24h2.8" stroke="#5a2d62" stroke-width="0.9" fill="none"/>
<circle cx="53.79" cy="318.11" r="1.35" fill="#5a2d62"/>
<path d="M62.23,316.57V322.27M60.84,316.57h2.8M60.84,322.27h2.8" stroke="#5a2d62" stroke-width="0.9" fill="none"/>
<circle cx="62.23" cy="319.42" r="1.35" fill="#5a2d62"/>
<path d="M70.68,321.70V331.96M69.28,321.70h2.8M69.28,331.96h2.8" stroke="#5a2d62" stroke-width="0.9" fill="none"/>
<circle cx="70.68" cy="326.83" r="1.35" fill="#5a2d62"/>
<path d="M79.12,347.92V352.48M77.72,347.92h2.8M77.72,352.48h2.8" stroke="#5a2d62" stroke-width="0.9" fill="none"/>
<circle cx="79.12" cy="350.20" r="1.35" fill="#5a2d62"/>
<path d="M87.57,354.19V358.75M86.17,354.19h2.8M86.17,358.75h2.8" stroke="#5a2d62" stroke-width="0.9" fill="none"/>
<circle cx="87.57" cy="356.47" r="1.35" fill="#5a2d62"/>
<path d="M96.02,351.11V355.67M94.61,351.11h2.8M94.61,355.67h2.8" stroke="#5a2d62" stroke-width="0.9" fill="none"/>
<circle cx="96.02" cy="353.39" r="1.35" fill="#5a2d62"/>
<path d="M104.46,353.34V357.90M103.06,353.34h2.8M103.06,357.90h2.8" stroke="#5a2d62" stroke-width="0.9" fill="none"/>
<circle cx="104.46" cy="355.62" r="1.35" fill="#5a2d62"/>
<path d="M112.91,358.07V360.35M111.50,358.07h2.8M111.50,360.35h2.8" stroke="#5a2d62" stroke-width="0.9" fill="none"/>
<circle cx="112.91" cy="359.21" r="1.35" fill="#5a2d62"/>
<text x="177.10" y="287.09" font-size="7.2" text-anchor="middle" fill="#231f20" textLength="45.60" lengthAdjust="spacingAndGlyphs">BCBL-1/Cas9</text>
<line x1="133.80" y1="293.70" x2="133.80" y2="367.80" stroke="#231f20" stroke-width="1"/>
<line x1="133.30" y1="367.30" x2="220.30" y2="367.30" stroke="#231f20" stroke-width="1"/>
<line x1="131.20" y1="367.30" x2="133.80" y2="367.30" stroke="#231f20" stroke-width="0.9"/>
<line x1="131.20" y1="353.05" x2="133.80" y2="353.05" stroke="#231f20" stroke-width="0.9"/>
<line x1="131.20" y1="338.80" x2="133.80" y2="338.80" stroke="#231f20" stroke-width="0.9"/>
<line x1="131.20" y1="324.55" x2="133.80" y2="324.55" stroke="#231f20" stroke-width="0.9"/>
<line x1="131.20" y1="310.30" x2="133.80" y2="310.30" stroke="#231f20" stroke-width="0.9"/>
<line x1="131.20" y1="296.05" x2="133.80" y2="296.05" stroke="#231f20" stroke-width="0.9"/>
<line x1="134.20" y1="367.30" x2="134.20" y2="370.00" stroke="#231f20" stroke-width="0.9"/>
<text x="133.80" y="379.03" font-size="6.2" text-anchor="middle" fill="#231f20" textLength="10.00" lengthAdjust="spacingAndGlyphs">-1.0</text>
<line x1="148.28" y1="367.30" x2="148.28" y2="370.00" stroke="#231f20" stroke-width="0.9"/>
<text x="147.88" y="379.03" font-size="6.2" text-anchor="middle" fill="#231f20" textLength="10.00" lengthAdjust="spacingAndGlyphs">-0.5</text>
<line x1="162.35" y1="367.30" x2="162.35" y2="370.00" stroke="#231f20" stroke-width="0.9"/>
<text x="162.35" y="379.03" font-size="6.2" text-anchor="middle" fill="#231f20" textLength="8.40" lengthAdjust="spacingAndGlyphs">0.0</text>
<line x1="176.43" y1="367.30" x2="176.43" y2="370.00" stroke="#231f20" stroke-width="0.9"/>
<text x="176.43" y="379.03" font-size="6.2" text-anchor="middle" fill="#231f20" textLength="8.40" lengthAdjust="spacingAndGlyphs">0.5</text>
<line x1="190.50" y1="367.30" x2="190.50" y2="370.00" stroke="#231f20" stroke-width="0.9"/>
<text x="190.50" y="379.03" font-size="6.2" text-anchor="middle" fill="#231f20" textLength="8.40" lengthAdjust="spacingAndGlyphs">1.0</text>
<line x1="204.58" y1="367.30" x2="204.58" y2="370.00" stroke="#231f20" stroke-width="0.9"/>
<text x="204.58" y="379.03" font-size="6.2" text-anchor="middle" fill="#231f20" textLength="8.40" lengthAdjust="spacingAndGlyphs">1.5</text>
<line x1="218.65" y1="367.30" x2="218.65" y2="370.00" stroke="#231f20" stroke-width="0.9"/>
<text x="218.65" y="379.03" font-size="6.2" text-anchor="middle" fill="#231f20" textLength="8.40" lengthAdjust="spacingAndGlyphs">2.0</text>
<text x="177.00" y="391.42" font-size="8.4" text-anchor="middle" fill="#231f20" textLength="46.50" lengthAdjust="spacingAndGlyphs">log Len (μM)</text>
<polyline points="142.65,309.73 143.21,309.73 143.77,309.73 144.33,309.73 144.90,309.73 145.46,309.73 146.02,309.73 146.59,309.73 147.15,309.73 147.71,309.73 148.28,309.73 148.84,309.73 149.40,309.73 149.96,309.73 150.53,309.73 151.09,309.73 151.65,309.73 152.22,309.73 152.78,309.73 153.34,309.73 153.91,309.73 154.47,309.73 155.03,309.73 155.59,309.73 156.16,309.73 156.72,309.73 157.28,309.73 157.85,309.73 158.41,309.73 158.97,309.73 159.54,309.73 160.10,309.73 160.66,309.73 161.22,309.73 161.79,309.73 162.35,309.73 162.91,309.73 163.48,309.73 164.04,309.73 164.60,309.73 165.17,309.73 165.73,309.73 166.29,309.73 166.85,309.73 167.42,309.73 167.98,309.73 168.54,309.73 169.11,309.73 169.67,309.73 170.23,309.73 170.80,309.73 171.36,309.73 171.92,309.73 172.48,309.73 173.05,309.74 173.61,309.74 174.17,309.75 174.74,309.77 175.30,309.80 175.86,309.85 176.43,309.93 176.99,310.07 177.55,310.28 178.11,310.58 178.68,310.98 179.24,311.44 179.80,311.90 180.37,312.30 180.93,312.60 181.49,312.81 182.06,312.95 182.62,313.03 183.18,313.08 183.74,313.11 184.31,313.13 184.87,313.14 185.43,313.14 186.00,313.15 186.56,313.15 187.12,313.15 187.69,313.15 188.25,313.15 188.81,313.15 189.37,313.15 189.94,313.15 190.50,313.15 191.06,313.15 191.63,313.15 192.19,313.15 192.75,313.15 193.32,313.15 193.88,313.15 194.44,313.15 195.00,313.15 195.57,313.15 196.13,313.15 196.69,313.15 197.26,313.15 197.82,313.15 198.38,313.15 198.94,313.15 199.51,313.15 200.07,313.15 200.63,313.15 201.20,313.15 201.76,313.15 202.32,313.15 202.89,313.15 203.45,313.15 204.01,313.15 204.58,313.15 205.14,313.15 205.70,313.15 206.26,313.15 206.83,313.15 207.39,313.15 207.95,313.15 208.52,313.15 209.08,313.15 209.64,313.15 210.21,313.15" fill="none" stroke="#a52a3c" stroke-width="1.2"/>
<path d="M142.65,309.50V316.34M141.25,309.50h2.8M141.25,316.34h2.8" stroke="#a52a3c" stroke-width="0.9" fill="none"/>
<circle cx="142.65" cy="312.92" r="1.35" fill="#a52a3c"/>
<path d="M151.09,307.68V311.10M149.69,307.68h2.8M149.69,311.10h2.8" stroke="#a52a3c" stroke-width="0.9" fill="none"/>
<circle cx="151.09" cy="309.39" r="1.35" fill="#a52a3c"/>
<path d="M159.54,307.51V312.07M158.14,307.51h2.8M158.14,312.07h2.8" stroke="#a52a3c" stroke-width="0.9" fill="none"/>
<circle cx="159.54" cy="309.79" r="1.35" fill="#a52a3c"/>
<path d="M167.98,306.88V312.58M166.58,306.88h2.8M166.58,312.58h2.8" stroke="#a52a3c" stroke-width="0.9" fill="none"/>
<circle cx="167.98" cy="309.73" r="1.35" fill="#a52a3c"/>
<path d="M176.43,301.41V312.81M175.03,301.41h2.8M175.03,312.81h2.8" stroke="#a52a3c" stroke-width="0.9" fill="none"/>
<circle cx="176.43" cy="307.11" r="1.35" fill="#a52a3c"/>
<path d="M184.87,308.36V317.48M183.47,308.36h2.8M183.47,317.48h2.8" stroke="#a52a3c" stroke-width="0.9" fill="none"/>
<circle cx="184.87" cy="312.92" r="1.35" fill="#a52a3c"/>
<path d="M193.32,307.22V318.62M191.92,307.22h2.8M191.92,318.62h2.8" stroke="#a52a3c" stroke-width="0.9" fill="none"/>
<circle cx="193.32" cy="312.92" r="1.35" fill="#a52a3c"/>
<path d="M201.76,310.30V314.86M200.36,310.30h2.8M200.36,314.86h2.8" stroke="#a52a3c" stroke-width="0.9" fill="none"/>
<circle cx="201.76" cy="312.58" r="1.35" fill="#a52a3c"/>
<path d="M210.21,307.22V318.62M208.81,307.22h2.8M208.81,318.62h2.8" stroke="#a52a3c" stroke-width="0.9" fill="none"/>
<circle cx="210.21" cy="312.92" r="1.35" fill="#a52a3c"/>
<polyline points="142.65,307.05 143.21,307.08 143.77,307.10 144.33,307.13 144.90,307.16 145.46,307.19 146.02,307.23 146.59,307.27 147.15,307.31 147.71,307.36 148.28,307.42 148.84,307.49 149.40,307.56 149.96,307.64 150.53,307.72 151.09,307.82 151.65,307.93 152.22,308.05 152.78,308.18 153.34,308.33 153.91,308.49 154.47,308.66 155.03,308.86 155.59,309.07 156.16,309.30 156.72,309.55 157.28,309.82 157.85,310.11 158.41,310.43 158.97,310.77 159.54,311.13 160.10,311.51 160.66,311.91 161.22,312.34 161.79,312.78 162.35,313.24 162.91,313.72 163.48,314.20 164.04,314.70 164.60,315.21 165.17,315.72 165.73,316.22 166.29,316.73 166.85,317.23 167.42,317.71 167.98,318.19 168.54,318.65 169.11,319.09 169.67,319.52 170.23,319.92 170.80,320.30 171.36,320.66 171.92,321.00 172.48,321.32 173.05,321.61 173.61,321.88 174.17,322.13 174.74,322.36 175.30,322.57 175.86,322.77 176.43,322.94 176.99,323.10 177.55,323.25 178.11,323.38 178.68,323.50 179.24,323.61 179.80,323.71 180.37,323.79 180.93,323.87 181.49,323.94 182.06,324.01 182.62,324.07 183.18,324.12 183.74,324.16 184.31,324.20 184.87,324.24 185.43,324.27 186.00,324.30 186.56,324.33 187.12,324.35 187.69,324.38 188.25,324.39 188.81,324.41 189.37,324.43 189.94,324.44 190.50,324.45 191.06,324.46 191.63,324.47 192.19,324.48 192.75,324.49 193.32,324.49 193.88,324.50 194.44,324.51 195.00,324.51 195.57,324.51 196.13,324.52 196.69,324.52 197.26,324.53 197.82,324.53 198.38,324.53 198.94,324.53 199.51,324.53 200.07,324.54 200.63,324.54 201.20,324.54 201.76,324.54 202.32,324.54 202.89,324.54 203.45,324.54 204.01,324.54 204.58,324.54 205.14,324.55 205.70,324.55 206.26,324.55 206.83,324.55 207.39,324.55 207.95,324.55 208.52,324.55 209.08,324.55 209.64,324.55 210.21,324.55" fill="none" stroke="#66ae4a" stroke-width="1.2"/>
<rect x="141.45" y="305.28" width="2.40" height="2.40" fill="#66ae4a"/>
<path d="M151.09,305.74V308.02M149.69,305.74h2.8M149.69,308.02h2.8" stroke="#66ae4a" stroke-width="0.9" fill="none"/>
<rect x="149.89" y="305.68" width="2.40" height="2.40" fill="#66ae4a"/>
<path d="M159.54,311.21V314.63M158.14,311.21h2.8M158.14,314.63h2.8" stroke="#66ae4a" stroke-width="0.9" fill="none"/>
<rect x="158.34" y="311.72" width="2.40" height="2.40" fill="#66ae4a"/>
<path d="M167.98,316.97V320.39M166.58,316.97h2.8M166.58,320.39h2.8" stroke="#66ae4a" stroke-width="0.9" fill="none"/>
<rect x="166.78" y="317.48" width="2.40" height="2.40" fill="#66ae4a"/>
<path d="M176.43,326.66V328.94M175.03,326.66h2.8M175.03,328.94h2.8" stroke="#66ae4a" stroke-width="0.9" fill="none"/>
<rect x="175.23" y="326.60" width="2.40" height="2.40" fill="#66ae4a"/>
<path d="M184.87,322.78V325.06M183.47,322.78h2.8M183.47,325.06h2.8" stroke="#66ae4a" stroke-width="0.9" fill="none"/>
<rect x="183.67" y="322.72" width="2.40" height="2.40" fill="#66ae4a"/>
<path d="M193.32,322.21V325.63M191.92,322.21h2.8M191.92,325.63h2.8" stroke="#66ae4a" stroke-width="0.9" fill="none"/>
<rect x="192.12" y="322.72" width="2.40" height="2.40" fill="#66ae4a"/>
<path d="M201.76,320.33V329.45M200.36,320.33h2.8M200.36,329.45h2.8" stroke="#66ae4a" stroke-width="0.9" fill="none"/>
<rect x="200.56" y="323.69" width="2.40" height="2.40" fill="#66ae4a"/>
<path d="M210.21,323.64V329.34M208.81,323.64h2.8M208.81,329.34h2.8" stroke="#66ae4a" stroke-width="0.9" fill="none"/>
<rect x="209.01" y="325.29" width="2.40" height="2.40" fill="#66ae4a"/>
<polyline points="142.65,312.43 143.21,312.46 143.77,312.50 144.33,312.55 144.90,312.59 145.46,312.64 146.02,312.69 146.59,312.75 147.15,312.82 147.71,312.88 148.28,312.96 148.84,313.04 149.40,313.13 149.96,313.22 150.53,313.32 151.09,313.43 151.65,313.55 152.22,313.68 152.78,313.82 153.34,313.97 153.91,314.13 154.47,314.31 155.03,314.49 155.59,314.70 156.16,314.92 156.72,315.15 157.28,315.40 157.85,315.67 158.41,315.97 158.97,316.28 159.54,316.61 160.10,316.97 160.66,317.35 161.22,317.76 161.79,318.20 162.35,318.66 162.91,319.15 163.48,319.67 164.04,320.23 164.60,320.81 165.17,321.43 165.73,322.08 166.29,322.76 166.85,323.47 167.42,324.22 167.98,325.00 168.54,325.81 169.11,326.65 169.67,327.52 170.23,328.41 170.80,329.34 171.36,330.28 171.92,331.25 172.48,332.23 173.05,333.23 173.61,334.24 174.17,335.27 174.74,336.29 175.30,337.32 175.86,338.34 176.43,339.37 176.99,340.38 177.55,341.38 178.11,342.36 178.68,343.33 179.24,344.27 179.80,345.20 180.37,346.09 180.93,346.96 181.49,347.80 182.06,348.61 182.62,349.39 183.18,350.14 183.74,350.85 184.31,351.53 184.87,352.18 185.43,352.80 186.00,353.38 186.56,353.94 187.12,354.46 187.69,354.95 188.25,355.41 188.81,355.85 189.37,356.26 189.94,356.64 190.50,357.00 191.06,357.33 191.63,357.64 192.19,357.94 192.75,358.21 193.32,358.46 193.88,358.69 194.44,358.91 195.00,359.12 195.57,359.30 196.13,359.48 196.69,359.64 197.26,359.79 197.82,359.93 198.38,360.06 198.94,360.18 199.51,360.29 200.07,360.39 200.63,360.48 201.20,360.57 201.76,360.65 202.32,360.73 202.89,360.79 203.45,360.86 204.01,360.92 204.58,360.97 205.14,361.02 205.70,361.06 206.26,361.11 206.83,361.15 207.39,361.18 207.95,361.21 208.52,361.24 209.08,361.27 209.64,361.30 210.21,361.32" fill="none" stroke="#5a2d62" stroke-width="1.2"/>
<path d="M142.65,311.21V314.63M141.25,311.21h2.8M141.25,314.63h2.8" stroke="#5a2d62" stroke-width="0.9" fill="none"/>
<circle cx="142.65" cy="312.92" r="1.35" fill="#5a2d62"/>
<path d="M151.09,312.18V314.46M149.69,312.18h2.8M149.69,314.46h2.8" stroke="#5a2d62" stroke-width="0.9" fill="none"/>
<circle cx="151.09" cy="313.32" r="1.35" fill="#5a2d62"/>
<path d="M159.54,315.49V318.91M158.14,315.49h2.8M158.14,318.91h2.8" stroke="#5a2d62" stroke-width="0.9" fill="none"/>
<circle cx="159.54" cy="317.20" r="1.35" fill="#5a2d62"/>
<path d="M167.98,323.41V330.25M166.58,323.41h2.8M166.58,330.25h2.8" stroke="#5a2d62" stroke-width="0.9" fill="none"/>
<circle cx="167.98" cy="326.83" r="1.35" fill="#5a2d62"/>
<path d="M176.43,336.24V345.36M175.03,336.24h2.8M175.03,345.36h2.8" stroke="#5a2d62" stroke-width="0.9" fill="none"/>
<circle cx="176.43" cy="340.80" r="1.35" fill="#5a2d62"/>
<path d="M184.87,349.40V352.82M183.47,349.40h2.8M183.47,352.82h2.8" stroke="#5a2d62" stroke-width="0.9" fill="none"/>
<circle cx="184.87" cy="351.11" r="1.35" fill="#5a2d62"/>
<path d="M193.32,353.05V358.75M191.92,353.05h2.8M191.92,358.75h2.8" stroke="#5a2d62" stroke-width="0.9" fill="none"/>
<circle cx="193.32" cy="355.90" r="1.35" fill="#5a2d62"/>
<path d="M201.76,356.64V361.20M200.36,356.64h2.8M200.36,361.20h2.8" stroke="#5a2d62" stroke-width="0.9" fill="none"/>
<circle cx="201.76" cy="358.92" r="1.35" fill="#5a2d62"/>
<path d="M210.21,360.06V362.34M208.81,360.06h2.8M208.81,362.34h2.8" stroke="#5a2d62" stroke-width="0.9" fill="none"/>
<circle cx="210.21" cy="361.20" r="1.35" fill="#5a2d62"/>
<text x="274.35" y="287.09" font-size="7.2" text-anchor="middle" fill="#231f20" textLength="37.10" lengthAdjust="spacingAndGlyphs">BC-1/Cas9</text>
<line x1="230.70" y1="293.70" x2="230.70" y2="367.80" stroke="#231f20" stroke-width="1"/>
<line x1="230.20" y1="367.30" x2="317.20" y2="367.30" stroke="#231f20" stroke-width="1"/>
<line x1="228.10" y1="367.30" x2="230.70" y2="367.30" stroke="#231f20" stroke-width="0.9"/>
<line x1="228.10" y1="353.05" x2="230.70" y2="353.05" stroke="#231f20" stroke-width="0.9"/>
<line x1="228.10" y1="338.80" x2="230.70" y2="338.80" stroke="#231f20" stroke-width="0.9"/>
<line x1="228.10" y1="324.55" x2="230.70" y2="324.55" stroke="#231f20" stroke-width="0.9"/>
<line x1="228.10" y1="310.30" x2="230.70" y2="310.30" stroke="#231f20" stroke-width="0.9"/>
<line x1="228.10" y1="296.05" x2="230.70" y2="296.05" stroke="#231f20" stroke-width="0.9"/>
<line x1="231.10" y1="367.30" x2="231.10" y2="370.00" stroke="#231f20" stroke-width="0.9"/>
<text x="230.70" y="379.03" font-size="6.2" text-anchor="middle" fill="#231f20" textLength="10.00" lengthAdjust="spacingAndGlyphs">-1.0</text>
<line x1="245.17" y1="367.30" x2="245.17" y2="370.00" stroke="#231f20" stroke-width="0.9"/>
<text x="244.77" y="379.03" font-size="6.2" text-anchor="middle" fill="#231f20" textLength="10.00" lengthAdjust="spacingAndGlyphs">-0.5</text>
<line x1="259.25" y1="367.30" x2="259.25" y2="370.00" stroke="#231f20" stroke-width="0.9"/>
<text x="259.25" y="379.03" font-size="6.2" text-anchor="middle" fill="#231f20" textLength="8.40" lengthAdjust="spacingAndGlyphs">0.0</text>
<line x1="273.32" y1="367.30" x2="273.32" y2="370.00" stroke="#231f20" stroke-width="0.9"/>
<text x="273.32" y="379.03" font-size="6.2" text-anchor="middle" fill="#231f20" textLength="8.40" lengthAdjust="spacingAndGlyphs">0.5</text>
<line x1="287.40" y1="367.30" x2="287.40" y2="370.00" stroke="#231f20" stroke-width="0.9"/>
<text x="287.40" y="379.03" font-size="6.2" text-anchor="middle" fill="#231f20" textLength="8.40" lengthAdjust="spacingAndGlyphs">1.0</text>
<line x1="301.48" y1="367.30" x2="301.48" y2="370.00" stroke="#231f20" stroke-width="0.9"/>
<text x="301.48" y="379.03" font-size="6.2" text-anchor="middle" fill="#231f20" textLength="8.40" lengthAdjust="spacingAndGlyphs">1.5</text>
<line x1="315.55" y1="367.30" x2="315.55" y2="370.00" stroke="#231f20" stroke-width="0.9"/>
<text x="315.55" y="379.03" font-size="6.2" text-anchor="middle" fill="#231f20" textLength="8.40" lengthAdjust="spacingAndGlyphs">2.0</text>
<text x="273.90" y="391.42" font-size="8.4" text-anchor="middle" fill="#231f20" textLength="46.50" lengthAdjust="spacingAndGlyphs">log Len (μM)</text>
<polyline points="239.54,311.20 240.11,311.19 240.67,311.17 241.23,311.16 241.80,311.14 242.36,311.13 242.92,311.11 243.49,311.09 244.05,311.07 244.61,311.05 245.17,311.03 245.74,311.01 246.30,310.99 246.86,310.97 247.43,310.94 247.99,310.91 248.55,310.89 249.12,310.86 249.68,310.83 250.24,310.80 250.81,310.76 251.37,310.73 251.93,310.69 252.49,310.66 253.06,310.62 253.62,310.58 254.18,310.53 254.75,310.49 255.31,310.44 255.87,310.40 256.44,310.35 257.00,310.29 257.56,310.24 258.12,310.18 258.69,310.13 259.25,310.07 259.81,310.01 260.38,309.94 260.94,309.88 261.50,309.81 262.06,309.74 262.63,309.67 263.19,309.59 263.75,309.52 264.32,309.44 264.88,309.36 265.44,309.28 266.01,309.20 266.57,309.11 267.13,309.03 267.69,308.94 268.26,308.85 268.82,308.76 269.38,308.67 269.95,308.58 270.51,308.49 271.07,308.40 271.64,308.30 272.20,308.21 272.76,308.11 273.32,308.02 273.89,307.93 274.45,307.83 275.01,307.74 275.58,307.64 276.14,307.55 276.70,307.46 277.27,307.37 277.83,307.28 278.39,307.19 278.95,307.10 279.52,307.01 280.08,306.93 280.64,306.84 281.21,306.76 281.77,306.68 282.33,306.60 282.90,306.52 283.46,306.45 284.02,306.37 284.58,306.30 285.15,306.23 285.71,306.16 286.27,306.10 286.84,306.03 287.40,305.97 287.96,305.91 288.53,305.86 289.09,305.80 289.65,305.75 290.21,305.69 290.78,305.64 291.34,305.60 291.90,305.55 292.47,305.51 293.03,305.46 293.59,305.42 294.16,305.38 294.72,305.35 295.28,305.31 295.84,305.28 296.41,305.24 296.97,305.21 297.53,305.18 298.10,305.15 298.66,305.13 299.22,305.10 299.79,305.07 300.35,305.05 300.91,305.03 301.48,305.01 302.04,304.99 302.60,304.97 303.16,304.95 303.73,304.93 304.29,304.91 304.85,304.90 305.42,304.88 305.98,304.87 306.54,304.85 307.11,304.84" fill="none" stroke="#a52a3c" stroke-width="1.2"/>
<path d="M239.54,307.74V316.86M238.14,307.74h2.8M238.14,316.86h2.8" stroke="#a52a3c" stroke-width="0.9" fill="none"/>
<circle cx="239.54" cy="312.30" r="1.35" fill="#a52a3c"/>
<path d="M247.99,308.13V312.69M246.59,308.13h2.8M246.59,312.69h2.8" stroke="#a52a3c" stroke-width="0.9" fill="none"/>
<circle cx="247.99" cy="310.41" r="1.35" fill="#a52a3c"/>
<path d="M256.44,306.14V310.70M255.03,306.14h2.8M255.03,310.70h2.8" stroke="#a52a3c" stroke-width="0.9" fill="none"/>
<circle cx="256.44" cy="308.42" r="1.35" fill="#a52a3c"/>
<path d="M264.88,304.20V307.62M263.48,304.20h2.8M263.48,307.62h2.8" stroke="#a52a3c" stroke-width="0.9" fill="none"/>
<circle cx="264.88" cy="305.91" r="1.35" fill="#a52a3c"/>
<path d="M273.32,307.68V311.10M271.93,307.68h2.8M271.93,311.10h2.8" stroke="#a52a3c" stroke-width="0.9" fill="none"/>
<circle cx="273.32" cy="309.39" r="1.35" fill="#a52a3c"/>
<path d="M281.77,307.11V310.53M280.37,307.11h2.8M280.37,310.53h2.8" stroke="#a52a3c" stroke-width="0.9" fill="none"/>
<circle cx="281.77" cy="308.82" r="1.35" fill="#a52a3c"/>
<path d="M290.21,300.95V310.07M288.81,300.95h2.8M288.81,310.07h2.8" stroke="#a52a3c" stroke-width="0.9" fill="none"/>
<circle cx="290.21" cy="305.51" r="1.35" fill="#a52a3c"/>
<path d="M298.66,301.12V309.10M297.26,301.12h2.8M297.26,309.10h2.8" stroke="#a52a3c" stroke-width="0.9" fill="none"/>
<circle cx="298.66" cy="305.11" r="1.35" fill="#a52a3c"/>
<path d="M307.11,302.21V306.77M305.71,302.21h2.8M305.71,306.77h2.8" stroke="#a52a3c" stroke-width="0.9" fill="none"/>
<circle cx="307.11" cy="304.49" r="1.35" fill="#a52a3c"/>
<polyline points="239.54,306.31 240.11,306.31 240.67,306.31 241.23,306.31 241.80,306.31 242.36,306.31 242.92,306.31 243.49,306.31 244.05,306.31 244.61,306.31 245.17,306.31 245.74,306.31 246.30,306.31 246.86,306.31 247.43,306.31 247.99,306.31 248.55,306.31 249.12,306.31 249.68,306.31 250.24,306.31 250.81,306.31 251.37,306.31 251.93,306.31 252.49,306.31 253.06,306.31 253.62,306.31 254.18,306.32 254.75,306.32 255.31,306.32 255.87,306.32 256.44,306.33 257.00,306.33 257.56,306.34 258.12,306.35 258.69,306.36 259.25,306.37 259.81,306.39 260.38,306.42 260.94,306.45 261.50,306.49 262.06,306.55 262.63,306.62 263.19,306.72 263.75,306.85 264.32,307.01 264.88,307.22 265.44,307.49 266.01,307.83 266.57,308.25 267.13,308.77 267.69,309.40 268.26,310.14 268.82,310.99 269.38,311.93 269.95,312.95 270.51,314.00 271.07,315.06 271.64,316.08 272.20,317.02 272.76,317.87 273.32,318.61 273.89,319.24 274.45,319.76 275.01,320.18 275.58,320.52 276.14,320.79 276.70,321.00 277.27,321.16 277.83,321.29 278.39,321.39 278.95,321.46 279.52,321.52 280.08,321.56 280.64,321.59 281.21,321.62 281.77,321.64 282.33,321.65 282.90,321.66 283.46,321.67 284.02,321.68 284.58,321.68 285.15,321.69 285.71,321.69 286.27,321.69 286.84,321.69 287.40,321.70 287.96,321.70 288.53,321.70 289.09,321.70 289.65,321.70 290.21,321.70 290.78,321.70 291.34,321.70 291.90,321.70 292.47,321.70 293.03,321.70 293.59,321.70 294.16,321.70 294.72,321.70 295.28,321.70 295.84,321.70 296.41,321.70 296.97,321.70 297.53,321.70 298.10,321.70 298.66,321.70 299.22,321.70 299.79,321.70 300.35,321.70 300.91,321.70 301.48,321.70 302.04,321.70 302.60,321.70 303.16,321.70 303.73,321.70 304.29,321.70 304.85,321.70 305.42,321.70 305.98,321.70 306.54,321.70 307.11,321.70" fill="none" stroke="#66ae4a" stroke-width="1.2"/>
<path d="M239.54,305.40V308.82M238.14,305.40h2.8M238.14,308.82h2.8" stroke="#66ae4a" stroke-width="0.9" fill="none"/>
<rect x="238.34" y="305.91" width="2.40" height="2.40" fill="#66ae4a"/>
<path d="M247.99,304.77V307.05M246.59,304.77h2.8M246.59,307.05h2.8" stroke="#66ae4a" stroke-width="0.9" fill="none"/>
<rect x="246.79" y="304.71" width="2.40" height="2.40" fill="#66ae4a"/>
<path d="M256.44,302.78V306.20M255.03,302.78h2.8M255.03,306.20h2.8" stroke="#66ae4a" stroke-width="0.9" fill="none"/>
<rect x="255.24" y="303.29" width="2.40" height="2.40" fill="#66ae4a"/>
<path d="M264.88,306.08V309.50M263.48,306.08h2.8M263.48,309.50h2.8" stroke="#66ae4a" stroke-width="0.9" fill="none"/>
<rect x="263.68" y="306.59" width="2.40" height="2.40" fill="#66ae4a"/>
<path d="M273.32,314.12V323.24M271.93,314.12h2.8M271.93,323.24h2.8" stroke="#66ae4a" stroke-width="0.9" fill="none"/>
<rect x="272.12" y="317.48" width="2.40" height="2.40" fill="#66ae4a"/>
<path d="M281.77,322.04V327.74M280.37,322.04h2.8M280.37,327.74h2.8" stroke="#66ae4a" stroke-width="0.9" fill="none"/>
<rect x="280.57" y="323.69" width="2.40" height="2.40" fill="#66ae4a"/>
<path d="M290.21,319.48V321.76M288.81,319.48h2.8M288.81,321.76h2.8" stroke="#66ae4a" stroke-width="0.9" fill="none"/>
<rect x="289.01" y="319.42" width="2.40" height="2.40" fill="#66ae4a"/>
<path d="M298.66,319.31V322.73M297.26,319.31h2.8M297.26,322.73h2.8" stroke="#66ae4a" stroke-width="0.9" fill="none"/>
<rect x="297.46" y="319.82" width="2.40" height="2.40" fill="#66ae4a"/>
<path d="M307.11,320.90V324.32M305.71,320.90h2.8M305.71,324.32h2.8" stroke="#66ae4a" stroke-width="0.9" fill="none"/>
<rect x="305.91" y="321.41" width="2.40" height="2.40" fill="#66ae4a"/>
<polyline points="239.54,302.01 240.11,302.22 240.67,302.43 241.23,302.66 241.80,302.89 242.36,303.13 242.92,303.39 243.49,303.65 244.05,303.93 244.61,304.22 245.17,304.52 245.74,304.83 246.30,305.16 246.86,305.50 247.43,305.85 247.99,306.22 248.55,306.60 249.12,306.99 249.68,307.40 250.24,307.82 250.81,308.26 251.37,308.71 251.93,309.18 252.49,309.67 253.06,310.17 253.62,310.69 254.18,311.22 254.75,311.77 255.31,312.33 255.87,312.91 256.44,313.51 257.00,314.12 257.56,314.75 258.12,315.39 258.69,316.05 259.25,316.72 259.81,317.41 260.38,318.11 260.94,318.83 261.50,319.55 262.06,320.29 262.63,321.05 263.19,321.81 263.75,322.58 264.32,323.36 264.88,324.15 265.44,324.95 266.01,325.75 266.57,326.56 267.13,327.38 267.69,328.20 268.26,329.02 268.82,329.84 269.38,330.66 269.95,331.48 270.51,332.30 271.07,333.12 271.64,333.94 272.20,334.75 272.76,335.55 273.32,336.35 273.89,337.14 274.45,337.92 275.01,338.69 275.58,339.45 276.14,340.21 276.70,340.95 277.27,341.67 277.83,342.39 278.39,343.09 278.95,343.78 279.52,344.45 280.08,345.11 280.64,345.75 281.21,346.38 281.77,346.99 282.33,347.59 282.90,348.17 283.46,348.73 284.02,349.28 284.58,349.81 285.15,350.33 285.71,350.83 286.27,351.32 286.84,351.79 287.40,352.24 287.96,352.68 288.53,353.10 289.09,353.51 289.65,353.90 290.21,354.28 290.78,354.65 291.34,355.00 291.90,355.34 292.47,355.67 293.03,355.98 293.59,356.28 294.16,356.57 294.72,356.85 295.28,357.11 295.84,357.37 296.41,357.61 296.97,357.84 297.53,358.07 298.10,358.28 298.66,358.49 299.22,358.69 299.79,358.88 300.35,359.06 300.91,359.23 301.48,359.39 302.04,359.55 302.60,359.70 303.16,359.84 303.73,359.98 304.29,360.11 304.85,360.24 305.42,360.35 305.98,360.47 306.54,360.58 307.11,360.68" fill="none" stroke="#5a2d62" stroke-width="1.2"/>
<path d="M239.54,297.76V304.60M238.14,297.76h2.8M238.14,304.60h2.8" stroke="#5a2d62" stroke-width="0.9" fill="none"/>
<circle cx="239.54" cy="301.18" r="1.35" fill="#5a2d62"/>
<path d="M247.99,304.77V308.19M246.59,304.77h2.8M246.59,308.19h2.8" stroke="#5a2d62" stroke-width="0.9" fill="none"/>
<circle cx="247.99" cy="306.48" r="1.35" fill="#5a2d62"/>
<path d="M256.44,309.62V318.74M255.03,309.62h2.8M255.03,318.74h2.8" stroke="#5a2d62" stroke-width="0.9" fill="none"/>
<circle cx="256.44" cy="314.18" r="1.35" fill="#5a2d62"/>
<path d="M264.88,317.08V330.76M263.48,317.08h2.8M263.48,330.76h2.8" stroke="#5a2d62" stroke-width="0.9" fill="none"/>
<circle cx="264.88" cy="323.92" r="1.35" fill="#5a2d62"/>
<path d="M273.32,333.96V343.07M271.93,333.96h2.8M271.93,343.07h2.8" stroke="#5a2d62" stroke-width="0.9" fill="none"/>
<circle cx="273.32" cy="338.51" r="1.35" fill="#5a2d62"/>
<path d="M281.77,343.36V349.06M280.37,343.36h2.8M280.37,349.06h2.8" stroke="#5a2d62" stroke-width="0.9" fill="none"/>
<circle cx="281.77" cy="346.21" r="1.35" fill="#5a2d62"/>
<path d="M290.21,347.63V353.34M288.81,347.63h2.8M288.81,353.34h2.8" stroke="#5a2d62" stroke-width="0.9" fill="none"/>
<circle cx="290.21" cy="350.49" r="1.35" fill="#5a2d62"/>
<path d="M298.66,354.48V361.31M297.26,354.48h2.8M297.26,361.31h2.8" stroke="#5a2d62" stroke-width="0.9" fill="none"/>
<circle cx="298.66" cy="357.90" r="1.35" fill="#5a2d62"/>
<path d="M307.11,356.53V362.23M305.71,356.53h2.8M305.71,362.23h2.8" stroke="#5a2d62" stroke-width="0.9" fill="none"/>
<circle cx="307.11" cy="359.38" r="1.35" fill="#5a2d62"/>
<text x="371.55" y="287.09" font-size="7.2" text-anchor="middle" fill="#231f20" textLength="59.50" lengthAdjust="spacingAndGlyphs">KMS12-BM/Cas9</text>
<line x1="328.00" y1="293.70" x2="328.00" y2="367.80" stroke="#231f20" stroke-width="1"/>
<line x1="327.50" y1="367.30" x2="414.50" y2="367.30" stroke="#231f20" stroke-width="1"/>
<line x1="325.40" y1="367.30" x2="328.00" y2="367.30" stroke="#231f20" stroke-width="0.9"/>
<line x1="325.40" y1="353.05" x2="328.00" y2="353.05" stroke="#231f20" stroke-width="0.9"/>
<line x1="325.40" y1="338.80" x2="328.00" y2="338.80" stroke="#231f20" stroke-width="0.9"/>
<line x1="325.40" y1="324.55" x2="328.00" y2="324.55" stroke="#231f20" stroke-width="0.9"/>
<line x1="325.40" y1="310.30" x2="328.00" y2="310.30" stroke="#231f20" stroke-width="0.9"/>
<line x1="325.40" y1="296.05" x2="328.00" y2="296.05" stroke="#231f20" stroke-width="0.9"/>
<line x1="328.40" y1="367.30" x2="328.40" y2="370.00" stroke="#231f20" stroke-width="0.9"/>
<text x="328.00" y="379.03" font-size="6.2" text-anchor="middle" fill="#231f20" textLength="10.00" lengthAdjust="spacingAndGlyphs">-1.0</text>
<line x1="342.47" y1="367.30" x2="342.47" y2="370.00" stroke="#231f20" stroke-width="0.9"/>
<text x="342.07" y="379.03" font-size="6.2" text-anchor="middle" fill="#231f20" textLength="10.00" lengthAdjust="spacingAndGlyphs">-0.5</text>
<line x1="356.55" y1="367.30" x2="356.55" y2="370.00" stroke="#231f20" stroke-width="0.9"/>
<text x="356.55" y="379.03" font-size="6.2" text-anchor="middle" fill="#231f20" textLength="8.40" lengthAdjust="spacingAndGlyphs">0.0</text>
<line x1="370.62" y1="367.30" x2="370.62" y2="370.00" stroke="#231f20" stroke-width="0.9"/>
<text x="370.62" y="379.03" font-size="6.2" text-anchor="middle" fill="#231f20" textLength="8.40" lengthAdjust="spacingAndGlyphs">0.5</text>
<line x1="384.70" y1="367.30" x2="384.70" y2="370.00" stroke="#231f20" stroke-width="0.9"/>
<text x="384.70" y="379.03" font-size="6.2" text-anchor="middle" fill="#231f20" textLength="8.40" lengthAdjust="spacingAndGlyphs">1.0</text>
<line x1="398.77" y1="367.30" x2="398.77" y2="370.00" stroke="#231f20" stroke-width="0.9"/>
<text x="398.77" y="379.03" font-size="6.2" text-anchor="middle" fill="#231f20" textLength="8.40" lengthAdjust="spacingAndGlyphs">1.5</text>
<line x1="412.85" y1="367.30" x2="412.85" y2="370.00" stroke="#231f20" stroke-width="0.9"/>
<text x="412.85" y="379.03" font-size="6.2" text-anchor="middle" fill="#231f20" textLength="8.40" lengthAdjust="spacingAndGlyphs">2.0</text>
<text x="371.20" y="391.42" font-size="8.4" text-anchor="middle" fill="#231f20" textLength="46.50" lengthAdjust="spacingAndGlyphs">log Len (μM)</text>
<polyline points="336.84,309.16 337.41,309.16 337.97,309.16 338.53,309.16 339.10,309.16 339.66,309.16 340.22,309.16 340.79,309.16 341.35,309.16 341.91,309.17 342.47,309.17 343.04,309.17 343.60,309.17 344.16,309.17 344.73,309.17 345.29,309.17 345.85,309.17 346.42,309.17 346.98,309.18 347.54,309.18 348.10,309.18 348.67,309.18 349.23,309.18 349.79,309.19 350.36,309.19 350.92,309.20 351.48,309.20 352.05,309.20 352.61,309.21 353.17,309.22 353.73,309.22 354.30,309.23 354.86,309.24 355.42,309.25 355.99,309.26 356.55,309.27 357.11,309.28 357.68,309.30 358.24,309.31 358.80,309.33 359.36,309.35 359.93,309.37 360.49,309.40 361.05,309.43 361.62,309.46 362.18,309.49 362.74,309.53 363.31,309.57 363.87,309.62 364.43,309.67 365.00,309.73 365.56,309.79 366.12,309.86 366.68,309.94 367.25,310.02 367.81,310.11 368.37,310.20 368.94,310.31 369.50,310.42 370.06,310.54 370.62,310.67 371.19,310.80 371.75,310.95 372.31,311.10 372.88,311.25 373.44,311.42 374.00,311.59 374.57,311.76 375.13,311.94 375.69,312.11 376.25,312.30 376.82,312.48 377.38,312.65 377.94,312.83 378.51,313.00 379.07,313.17 379.63,313.34 380.20,313.49 380.76,313.64 381.32,313.79 381.88,313.92 382.45,314.05 383.01,314.17 383.57,314.28 384.14,314.39 384.70,314.48 385.26,314.57 385.83,314.65 386.39,314.73 386.95,314.80 387.51,314.86 388.08,314.92 388.64,314.97 389.20,315.02 389.77,315.06 390.33,315.10 390.89,315.13 391.46,315.16 392.02,315.19 392.58,315.22 393.14,315.24 393.71,315.26 394.27,315.28 394.83,315.29 395.40,315.31 395.96,315.32 396.52,315.33 397.09,315.34 397.65,315.35 398.21,315.36 398.77,315.37 399.34,315.37 399.90,315.38 400.46,315.39 401.03,315.39 401.59,315.39 402.15,315.40 402.72,315.40 403.28,315.41 403.84,315.41 404.40,315.41" fill="none" stroke="#a52a3c" stroke-width="1.2"/>
<path d="M336.84,306.54V312.24M335.44,306.54h2.8M335.44,312.24h2.8" stroke="#a52a3c" stroke-width="0.9" fill="none"/>
<circle cx="336.84" cy="309.39" r="1.35" fill="#a52a3c"/>
<path d="M345.29,304.83V313.95M343.89,304.83h2.8M343.89,313.95h2.8" stroke="#a52a3c" stroke-width="0.9" fill="none"/>
<circle cx="345.29" cy="309.39" r="1.35" fill="#a52a3c"/>
<path d="M353.73,303.12V311.10M352.33,303.12h2.8M352.33,311.10h2.8" stroke="#a52a3c" stroke-width="0.9" fill="none"/>
<circle cx="353.73" cy="307.11" r="1.35" fill="#a52a3c"/>
<path d="M362.18,305.40V313.38M360.78,305.40h2.8M360.78,313.38h2.8" stroke="#a52a3c" stroke-width="0.9" fill="none"/>
<circle cx="362.18" cy="309.39" r="1.35" fill="#a52a3c"/>
<path d="M370.62,305.00V311.84M369.23,305.00h2.8M369.23,311.84h2.8" stroke="#a52a3c" stroke-width="0.9" fill="none"/>
<circle cx="370.62" cy="308.42" r="1.35" fill="#a52a3c"/>
<path d="M379.07,306.94V314.92M377.67,306.94h2.8M377.67,314.92h2.8" stroke="#a52a3c" stroke-width="0.9" fill="none"/>
<circle cx="379.07" cy="310.93" r="1.35" fill="#a52a3c"/>
<path d="M387.51,309.50V316.34M386.12,309.50h2.8M386.12,316.34h2.8" stroke="#a52a3c" stroke-width="0.9" fill="none"/>
<circle cx="387.51" cy="312.92" r="1.35" fill="#a52a3c"/>
<path d="M395.96,313.04V315.32M394.56,313.04h2.8M394.56,315.32h2.8" stroke="#a52a3c" stroke-width="0.9" fill="none"/>
<circle cx="395.96" cy="314.18" r="1.35" fill="#a52a3c"/>
<path d="M404.40,312.92V317.48M403.00,312.92h2.8M403.00,317.48h2.8" stroke="#a52a3c" stroke-width="0.9" fill="none"/>
<circle cx="404.40" cy="315.20" r="1.35" fill="#a52a3c"/>
<polyline points="336.84,312.27 337.41,312.47 337.97,312.67 338.53,312.89 339.10,313.12 339.66,313.36 340.22,313.61 340.79,313.88 341.35,314.17 341.91,314.47 342.47,314.78 343.04,315.11 343.60,315.46 344.16,315.82 344.73,316.21 345.29,316.61 345.85,317.03 346.42,317.47 346.98,317.92 347.54,318.40 348.10,318.90 348.67,319.42 349.23,319.96 349.79,320.52 350.36,321.10 350.92,321.70 351.48,322.32 352.05,322.96 352.61,323.62 353.17,324.30 353.73,325.00 354.30,325.71 354.86,326.45 355.42,327.19 355.99,327.95 356.55,328.73 357.11,329.51 357.68,330.31 358.24,331.12 358.80,331.93 359.36,332.75 359.93,333.57 360.49,334.40 361.05,335.22 361.62,336.05 362.18,336.87 362.74,337.69 363.31,338.50 363.87,339.31 364.43,340.11 365.00,340.89 365.56,341.67 366.12,342.43 366.68,343.17 367.25,343.91 367.81,344.62 368.37,345.32 368.94,346.00 369.50,346.66 370.06,347.30 370.62,347.92 371.19,348.52 371.75,349.10 372.31,349.66 372.88,350.20 373.44,350.72 374.00,351.22 374.57,351.70 375.13,352.15 375.69,352.59 376.25,353.01 376.82,353.41 377.38,353.80 377.94,354.16 378.51,354.51 379.07,354.84 379.63,355.15 380.20,355.45 380.76,355.74 381.32,356.01 381.88,356.26 382.45,356.50 383.01,356.73 383.57,356.95 384.14,357.15 384.70,357.35 385.26,357.53 385.83,357.70 386.39,357.87 386.95,358.02 387.51,358.17 388.08,358.30 388.64,358.43 389.20,358.56 389.77,358.67 390.33,358.78 390.89,358.88 391.46,358.98 392.02,359.07 392.58,359.15 393.14,359.23 393.71,359.31 394.27,359.38 394.83,359.44 395.40,359.51 395.96,359.56 396.52,359.62 397.09,359.67 397.65,359.72 398.21,359.76 398.77,359.81 399.34,359.85 399.90,359.89 400.46,359.92 401.03,359.95 401.59,359.99 402.15,360.02 402.72,360.04 403.28,360.07 403.84,360.09 404.40,360.12" fill="none" stroke="#66ae4a" stroke-width="1.2"/>
<path d="M336.84,309.27V311.55M335.44,309.27h2.8M335.44,311.55h2.8" stroke="#66ae4a" stroke-width="0.9" fill="none"/>
<rect x="335.64" y="309.21" width="2.40" height="2.40" fill="#66ae4a"/>
<path d="M345.29,313.09V316.51M343.89,313.09h2.8M343.89,316.51h2.8" stroke="#66ae4a" stroke-width="0.9" fill="none"/>
<rect x="344.09" y="313.60" width="2.40" height="2.40" fill="#66ae4a"/>
<path d="M353.73,321.70V325.12M352.33,321.70h2.8M352.33,325.12h2.8" stroke="#66ae4a" stroke-width="0.9" fill="none"/>
<rect x="352.53" y="322.21" width="2.40" height="2.40" fill="#66ae4a"/>
<rect x="360.98" y="334.41" width="2.40" height="2.40" fill="#66ae4a"/>
<path d="M370.62,345.47V348.89M369.23,345.47h2.8M369.23,348.89h2.8" stroke="#66ae4a" stroke-width="0.9" fill="none"/>
<rect x="369.43" y="345.98" width="2.40" height="2.40" fill="#66ae4a"/>
<path d="M379.07,348.83V353.39M377.67,348.83h2.8M377.67,353.39h2.8" stroke="#66ae4a" stroke-width="0.9" fill="none"/>
<rect x="377.87" y="349.91" width="2.40" height="2.40" fill="#66ae4a"/>
<path d="M387.51,352.76V358.47M386.12,352.76h2.8M386.12,358.47h2.8" stroke="#66ae4a" stroke-width="0.9" fill="none"/>
<rect x="386.31" y="354.42" width="2.40" height="2.40" fill="#66ae4a"/>
<path d="M395.96,356.19V359.61M394.56,356.19h2.8M394.56,359.61h2.8" stroke="#66ae4a" stroke-width="0.9" fill="none"/>
<rect x="394.76" y="356.70" width="2.40" height="2.40" fill="#66ae4a"/>
<path d="M404.40,357.78V360.06M403.00,357.78h2.8M403.00,360.06h2.8" stroke="#66ae4a" stroke-width="0.9" fill="none"/>
<rect x="403.20" y="357.72" width="2.40" height="2.40" fill="#66ae4a"/>
<polyline points="336.84,311.06 337.41,311.20 337.97,311.35 338.53,311.52 339.10,311.70 339.66,311.90 340.22,312.12 340.79,312.37 341.35,312.63 341.91,312.92 342.47,313.23 343.04,313.58 343.60,313.95 344.16,314.36 344.73,314.80 345.29,315.27 345.85,315.79 346.42,316.35 346.98,316.94 347.54,317.59 348.10,318.27 348.67,319.01 349.23,319.79 349.79,320.61 350.36,321.49 350.92,322.41 351.48,323.37 352.05,324.38 352.61,325.43 353.17,326.51 353.73,327.63 354.30,328.77 354.86,329.94 355.42,331.12 355.99,332.32 356.55,333.53 357.11,334.73 357.68,335.93 358.24,337.12 358.80,338.28 359.36,339.43 359.93,340.55 360.49,341.63 361.05,342.68 361.62,343.68 362.18,344.65 362.74,345.57 363.31,346.44 363.87,347.27 364.43,348.05 365.00,348.78 365.56,349.47 366.12,350.11 366.68,350.71 367.25,351.27 367.81,351.78 368.37,352.26 368.94,352.70 369.50,353.11 370.06,353.48 370.62,353.82 371.19,354.14 371.75,354.43 372.31,354.69 372.88,354.93 373.44,355.15 374.00,355.35 374.57,355.53 375.13,355.70 375.69,355.85 376.25,355.99 376.82,356.12 377.38,356.23 377.94,356.33 378.51,356.43 379.07,356.51 379.63,356.59 380.20,356.66 380.76,356.72 381.32,356.78 381.88,356.83 382.45,356.88 383.01,356.92 383.57,356.96 384.14,356.99 384.70,357.03 385.26,357.06 385.83,357.08 386.39,357.10 386.95,357.13 387.51,357.14 388.08,357.16 388.64,357.18 389.20,357.19 389.77,357.20 390.33,357.22 390.89,357.23 391.46,357.24 392.02,357.24 392.58,357.25 393.14,357.26 393.71,357.27 394.27,357.27 394.83,357.28 395.40,357.28 395.96,357.29 396.52,357.29 397.09,357.29 397.65,357.30 398.21,357.30 398.77,357.30 399.34,357.30 399.90,357.31 400.46,357.31 401.03,357.31 401.59,357.31 402.15,357.31 402.72,357.31 403.28,357.31 403.84,357.32 404.40,357.32" fill="none" stroke="#5a2d62" stroke-width="1.2"/>
<path d="M336.84,308.70V312.12M335.44,308.70h2.8M335.44,312.12h2.8" stroke="#5a2d62" stroke-width="0.9" fill="none"/>
<circle cx="336.84" cy="310.41" r="1.35" fill="#5a2d62"/>
<path d="M345.29,312.01V315.43M343.89,312.01h2.8M343.89,315.43h2.8" stroke="#5a2d62" stroke-width="0.9" fill="none"/>
<circle cx="345.29" cy="313.72" r="1.35" fill="#5a2d62"/>
<path d="M353.73,322.27V331.39M352.33,322.27h2.8M352.33,331.39h2.8" stroke="#5a2d62" stroke-width="0.9" fill="none"/>
<circle cx="353.73" cy="326.83" r="1.35" fill="#5a2d62"/>
<path d="M362.18,343.02V347.58M360.78,343.02h2.8M360.78,347.58h2.8" stroke="#5a2d62" stroke-width="0.9" fill="none"/>
<circle cx="362.18" cy="345.30" r="1.35" fill="#5a2d62"/>
<path d="M370.62,351.17V356.87M369.23,351.17h2.8M369.23,356.87h2.8" stroke="#5a2d62" stroke-width="0.9" fill="none"/>
<circle cx="370.62" cy="354.02" r="1.35" fill="#5a2d62"/>
<path d="M379.07,353.51V360.35M377.67,353.51h2.8M377.67,360.35h2.8" stroke="#5a2d62" stroke-width="0.9" fill="none"/>
<circle cx="379.07" cy="356.93" r="1.35" fill="#5a2d62"/>
<path d="M387.51,353.51V360.35M386.12,353.51h2.8M386.12,360.35h2.8" stroke="#5a2d62" stroke-width="0.9" fill="none"/>
<circle cx="387.51" cy="356.93" r="1.35" fill="#5a2d62"/>
<path d="M395.96,353.91V357.32M394.56,353.91h2.8M394.56,357.32h2.8" stroke="#5a2d62" stroke-width="0.9" fill="none"/>
<circle cx="395.96" cy="355.62" r="1.35" fill="#5a2d62"/>
<path d="M404.40,355.79V358.07M403.00,355.79h2.8M403.00,358.07h2.8" stroke="#5a2d62" stroke-width="0.9" fill="none"/>
<circle cx="404.40" cy="356.93" r="1.35" fill="#5a2d62"/>
<text x="468.95" y="287.09" font-size="7.2" text-anchor="middle" fill="#231f20" textLength="43.50" lengthAdjust="spacingAndGlyphs">MM.1S/Cas9</text>
<line x1="425.20" y1="293.70" x2="425.20" y2="367.80" stroke="#231f20" stroke-width="1"/>
<line x1="424.70" y1="367.30" x2="511.70" y2="367.30" stroke="#231f20" stroke-width="1"/>
<line x1="422.60" y1="367.30" x2="425.20" y2="367.30" stroke="#231f20" stroke-width="0.9"/>
<line x1="422.60" y1="353.05" x2="425.20" y2="353.05" stroke="#231f20" stroke-width="0.9"/>
<line x1="422.60" y1="338.80" x2="425.20" y2="338.80" stroke="#231f20" stroke-width="0.9"/>
<line x1="422.60" y1="324.55" x2="425.20" y2="324.55" stroke="#231f20" stroke-width="0.9"/>
<line x1="422.60" y1="310.30" x2="425.20" y2="310.30" stroke="#231f20" stroke-width="0.9"/>
<line x1="422.60" y1="296.05" x2="425.20" y2="296.05" stroke="#231f20" stroke-width="0.9"/>
<line x1="425.60" y1="367.30" x2="425.60" y2="370.00" stroke="#231f20" stroke-width="0.9"/>
<text x="425.20" y="379.03" font-size="6.2" text-anchor="middle" fill="#231f20" textLength="10.00" lengthAdjust="spacingAndGlyphs">-1.0</text>
<line x1="439.67" y1="367.30" x2="439.67" y2="370.00" stroke="#231f20" stroke-width="0.9"/>
<text x="439.27" y="379.03" font-size="6.2" text-anchor="middle" fill="#231f20" textLength="10.00" lengthAdjust="spacingAndGlyphs">-0.5</text>
<line x1="453.75" y1="367.30" x2="453.75" y2="370.00" stroke="#231f20" stroke-width="0.9"/>
<text x="453.75" y="379.03" font-size="6.2" text-anchor="middle" fill="#231f20" textLength="8.40" lengthAdjust="spacingAndGlyphs">0.0</text>
<line x1="467.82" y1="367.30" x2="467.82" y2="370.00" stroke="#231f20" stroke-width="0.9"/>
<text x="467.82" y="379.03" font-size="6.2" text-anchor="middle" fill="#231f20" textLength="8.40" lengthAdjust="spacingAndGlyphs">0.5</text>
<line x1="481.90" y1="367.30" x2="481.90" y2="370.00" stroke="#231f20" stroke-width="0.9"/>
<text x="481.90" y="379.03" font-size="6.2" text-anchor="middle" fill="#231f20" textLength="8.40" lengthAdjust="spacingAndGlyphs">1.0</text>
<line x1="495.97" y1="367.30" x2="495.97" y2="370.00" stroke="#231f20" stroke-width="0.9"/>
<text x="495.97" y="379.03" font-size="6.2" text-anchor="middle" fill="#231f20" textLength="8.40" lengthAdjust="spacingAndGlyphs">1.5</text>
<line x1="510.05" y1="367.30" x2="510.05" y2="370.00" stroke="#231f20" stroke-width="0.9"/>
<text x="510.05" y="379.03" font-size="6.2" text-anchor="middle" fill="#231f20" textLength="8.40" lengthAdjust="spacingAndGlyphs">2.0</text>
<text x="468.40" y="391.42" font-size="8.4" text-anchor="middle" fill="#231f20" textLength="46.50" lengthAdjust="spacingAndGlyphs">log Len (μM)</text>
<polyline points="434.04,313.15 434.61,313.15 435.17,313.15 435.73,313.15 436.30,313.15 436.86,313.15 437.42,313.15 437.99,313.15 438.55,313.15 439.11,313.15 439.67,313.15 440.24,313.15 440.80,313.15 441.36,313.15 441.93,313.15 442.49,313.15 443.05,313.15 443.62,313.15 444.18,313.15 444.74,313.15 445.30,313.15 445.87,313.15 446.43,313.15 446.99,313.15 447.56,313.15 448.12,313.15 448.68,313.15 449.25,313.15 449.81,313.15 450.37,313.15 450.93,313.15 451.50,313.15 452.06,313.15 452.62,313.15 453.19,313.15 453.75,313.15 454.31,313.15 454.88,313.15 455.44,313.15 456.00,313.15 456.56,313.15 457.13,313.15 457.69,313.15 458.25,313.15 458.82,313.15 459.38,313.15 459.94,313.15 460.51,313.15 461.07,313.15 461.63,313.15 462.19,313.15 462.76,313.15 463.32,313.15 463.88,313.15 464.45,313.15 465.01,313.15 465.57,313.15 466.14,313.15 466.70,313.15 467.26,313.15 467.82,313.15 468.39,313.15 468.95,313.15 469.51,313.15 470.08,313.15 470.64,313.15 471.20,313.15 471.77,313.15 472.33,313.15 472.89,313.15 473.45,313.15 474.02,313.15 474.58,313.15 475.14,313.15 475.71,313.15 476.27,313.15 476.83,313.15 477.40,313.14 477.96,313.13 478.52,313.12 479.08,313.10 479.65,313.08 480.21,313.05 480.77,313.02 481.34,312.98 481.90,312.94 482.46,312.90 483.03,312.85 483.59,312.80 484.15,312.75 484.71,312.69 485.28,312.62 485.84,312.56 486.40,312.49 486.97,312.41 487.53,312.33 488.09,312.25 488.66,312.16 489.22,312.06 489.78,311.97 490.34,311.87 490.91,311.76 491.47,311.65 492.03,311.54 492.60,311.42 493.16,311.30 493.72,311.18 494.29,311.05 494.85,310.92 495.41,310.78 495.97,310.64 496.54,310.49 497.10,310.34 497.66,310.19 498.23,310.03 498.79,309.87 499.35,309.70 499.92,309.53 500.48,309.36 501.04,309.18 501.60,308.99" fill="none" stroke="#a52a3c" stroke-width="1.2"/>
<path d="M434.04,308.76V317.88M432.64,308.76h2.8M432.64,317.88h2.8" stroke="#a52a3c" stroke-width="0.9" fill="none"/>
<circle cx="434.04" cy="313.32" r="1.35" fill="#a52a3c"/>
<path d="M442.49,306.37V313.21M441.09,306.37h2.8M441.09,313.21h2.8" stroke="#a52a3c" stroke-width="0.9" fill="none"/>
<circle cx="442.49" cy="309.79" r="1.35" fill="#a52a3c"/>
<path d="M450.93,312.58V314.86M449.53,312.58h2.8M449.53,314.86h2.8" stroke="#a52a3c" stroke-width="0.9" fill="none"/>
<circle cx="450.93" cy="313.72" r="1.35" fill="#a52a3c"/>
<path d="M459.38,314.06V316.34M457.98,314.06h2.8M457.98,316.34h2.8" stroke="#a52a3c" stroke-width="0.9" fill="none"/>
<circle cx="459.38" cy="315.20" r="1.35" fill="#a52a3c"/>
<path d="M467.82,309.22V312.64M466.42,309.22h2.8M466.42,312.64h2.8" stroke="#a52a3c" stroke-width="0.9" fill="none"/>
<circle cx="467.82" cy="310.93" r="1.35" fill="#a52a3c"/>
<circle cx="476.27" cy="313.72" r="1.35" fill="#a52a3c"/>
<path d="M484.71,308.48V314.18M483.31,308.48h2.8M483.31,314.18h2.8" stroke="#a52a3c" stroke-width="0.9" fill="none"/>
<circle cx="484.71" cy="311.33" r="1.35" fill="#a52a3c"/>
<path d="M493.16,301.24V320.62M491.76,301.24h2.8M491.76,320.62h2.8" stroke="#a52a3c" stroke-width="0.9" fill="none"/>
<circle cx="493.16" cy="310.93" r="1.35" fill="#a52a3c"/>
<path d="M501.60,299.24V316.34M500.20,299.24h2.8M500.20,316.34h2.8" stroke="#a52a3c" stroke-width="0.9" fill="none"/>
<circle cx="501.60" cy="307.79" r="1.35" fill="#a52a3c"/>
<polyline points="434.04,314.54 434.61,314.75 435.17,314.97 435.73,315.21 436.30,315.46 436.86,315.73 437.42,316.01 437.99,316.30 438.55,316.61 439.11,316.94 439.67,317.28 440.24,317.64 440.80,318.02 441.36,318.41 441.93,318.81 442.49,319.24 443.05,319.68 443.62,320.13 444.18,320.60 444.74,321.09 445.30,321.59 445.87,322.10 446.43,322.62 446.99,323.16 447.56,323.71 448.12,324.26 448.68,324.82 449.25,325.39 449.81,325.96 450.37,326.54 450.93,327.12 451.50,327.69 452.06,328.27 452.62,328.84 453.19,329.41 453.75,329.97 454.31,330.52 454.88,331.07 455.44,331.61 456.00,332.13 456.56,332.64 457.13,333.14 457.69,333.63 458.25,334.10 458.82,334.55 459.38,334.99 459.94,335.42 460.51,335.82 461.07,336.21 461.63,336.59 462.19,336.95 462.76,337.29 463.32,337.62 463.88,337.93 464.45,338.22 465.01,338.50 465.57,338.77 466.14,339.02 466.70,339.26 467.26,339.48 467.82,339.69 468.39,339.89 468.95,340.08 469.51,340.26 470.08,340.42 470.64,340.58 471.20,340.73 471.77,340.86 472.33,340.99 472.89,341.11 473.45,341.23 474.02,341.33 474.58,341.43 475.14,341.52 475.71,341.61 476.27,341.69 476.83,341.77 477.40,341.84 477.96,341.90 478.52,341.96 479.08,342.02 479.65,342.08 480.21,342.12 480.77,342.17 481.34,342.21 481.90,342.25 482.46,342.29 483.03,342.33 483.59,342.36 484.15,342.39 484.71,342.42 485.28,342.44 485.84,342.47 486.40,342.49 486.97,342.51 487.53,342.53 488.09,342.55 488.66,342.57 489.22,342.58 489.78,342.60 490.34,342.61 490.91,342.62 491.47,342.64 492.03,342.65 492.60,342.66 493.16,342.67 493.72,342.67 494.29,342.68 494.85,342.69 495.41,342.70 495.97,342.70 496.54,342.71 497.10,342.72 497.66,342.72 498.23,342.73 498.79,342.73 499.35,342.73 499.92,342.74 500.48,342.74 501.04,342.75 501.60,342.75" fill="none" stroke="#66ae4a" stroke-width="1.2"/>
<path d="M434.04,312.01V315.43M432.64,312.01h2.8M432.64,315.43h2.8" stroke="#66ae4a" stroke-width="0.9" fill="none"/>
<rect x="432.84" y="312.52" width="2.40" height="2.40" fill="#66ae4a"/>
<path d="M442.49,316.06V318.34M441.09,316.06h2.8M441.09,318.34h2.8" stroke="#66ae4a" stroke-width="0.9" fill="none"/>
<rect x="441.29" y="316.00" width="2.40" height="2.40" fill="#66ae4a"/>
<path d="M450.93,327.12V330.54M449.53,327.12h2.8M449.53,330.54h2.8" stroke="#66ae4a" stroke-width="0.9" fill="none"/>
<rect x="449.73" y="327.63" width="2.40" height="2.40" fill="#66ae4a"/>
<path d="M459.38,332.87V336.29M457.98,332.87h2.8M457.98,336.29h2.8" stroke="#66ae4a" stroke-width="0.9" fill="none"/>
<rect x="458.18" y="333.38" width="2.40" height="2.40" fill="#66ae4a"/>
<path d="M467.82,337.20V340.62M466.42,337.20h2.8M466.42,340.62h2.8" stroke="#66ae4a" stroke-width="0.9" fill="none"/>
<rect x="466.62" y="337.71" width="2.40" height="2.40" fill="#66ae4a"/>
<path d="M476.27,339.26V341.54M474.87,339.26h2.8M474.87,341.54h2.8" stroke="#66ae4a" stroke-width="0.9" fill="none"/>
<rect x="475.07" y="339.20" width="2.40" height="2.40" fill="#66ae4a"/>
<path d="M484.71,340.28V342.56M483.31,340.28h2.8M483.31,342.56h2.8" stroke="#66ae4a" stroke-width="0.9" fill="none"/>
<rect x="483.51" y="340.22" width="2.40" height="2.40" fill="#66ae4a"/>
<rect x="491.96" y="340.79" width="2.40" height="2.40" fill="#66ae4a"/>
<rect x="500.40" y="341.19" width="2.40" height="2.40" fill="#66ae4a"/>
<polyline points="434.04,313.15 434.61,313.30 435.17,313.45 435.73,313.62 436.30,313.80 436.86,313.99 437.42,314.20 437.99,314.43 438.55,314.67 439.11,314.93 439.67,315.21 440.24,315.51 440.80,315.83 441.36,316.18 441.93,316.55 442.49,316.94 443.05,317.37 443.62,317.82 444.18,318.30 444.74,318.81 445.30,319.35 445.87,319.92 446.43,320.53 446.99,321.17 447.56,321.85 448.12,322.56 448.68,323.31 449.25,324.09 449.81,324.90 450.37,325.75 450.93,326.63 451.50,327.55 452.06,328.49 452.62,329.47 453.19,330.46 453.75,331.49 454.31,332.53 454.88,333.59 455.44,334.67 456.00,335.75 456.56,336.85 457.13,337.94 457.69,339.04 458.25,340.14 458.82,341.22 459.38,342.30 459.94,343.36 460.51,344.40 461.07,345.43 461.63,346.42 462.19,347.40 462.76,348.34 463.32,349.26 463.88,350.14 464.45,350.99 465.01,351.80 465.57,352.58 466.14,353.33 466.70,354.04 467.26,354.72 467.82,355.36 468.39,355.97 468.95,356.54 469.51,357.08 470.08,357.59 470.64,358.07 471.20,358.52 471.77,358.95 472.33,359.34 472.89,359.71 473.45,360.06 474.02,360.38 474.58,360.68 475.14,360.96 475.71,361.22 476.27,361.46 476.83,361.69 477.40,361.90 477.96,362.09 478.52,362.27 479.08,362.44 479.65,362.59 480.21,362.74 480.77,362.87 481.34,362.99 481.90,363.10 482.46,363.21 483.03,363.30 483.59,363.39 484.15,363.48 484.71,363.55 485.28,363.62 485.84,363.69 486.40,363.75 486.97,363.80 487.53,363.85 488.09,363.90 488.66,363.94 489.22,363.98 489.78,364.02 490.34,364.05 490.91,364.09 491.47,364.11 492.03,364.14 492.60,364.17 493.16,364.19 493.72,364.21 494.29,364.23 494.85,364.25 495.41,364.26 495.97,364.28 496.54,364.29 497.10,364.30 497.66,364.31 498.23,364.33 498.79,364.34 499.35,364.34 499.92,364.35 500.48,364.36 501.04,364.37 501.60,364.37" fill="none" stroke="#5a2d62" stroke-width="1.2"/>
<path d="M434.04,311.21V314.63M432.64,311.21h2.8M432.64,314.63h2.8" stroke="#5a2d62" stroke-width="0.9" fill="none"/>
<circle cx="434.04" cy="312.92" r="1.35" fill="#5a2d62"/>
<path d="M442.49,312.01V315.43M441.09,312.01h2.8M441.09,315.43h2.8" stroke="#5a2d62" stroke-width="0.9" fill="none"/>
<circle cx="442.49" cy="313.72" r="1.35" fill="#5a2d62"/>
<path d="M450.93,322.73V334.13M449.53,322.73h2.8M449.53,334.13h2.8" stroke="#5a2d62" stroke-width="0.9" fill="none"/>
<circle cx="450.93" cy="328.43" r="1.35" fill="#5a2d62"/>
<path d="M459.38,343.59V347.01M457.98,343.59h2.8M457.98,347.01h2.8" stroke="#5a2d62" stroke-width="0.9" fill="none"/>
<circle cx="459.38" cy="345.30" r="1.35" fill="#5a2d62"/>
<path d="M467.82,352.71V357.27M466.42,352.71h2.8M466.42,357.27h2.8" stroke="#5a2d62" stroke-width="0.9" fill="none"/>
<circle cx="467.82" cy="354.99" r="1.35" fill="#5a2d62"/>
<path d="M476.27,360.40V363.82M474.87,360.40h2.8M474.87,363.82h2.8" stroke="#5a2d62" stroke-width="0.9" fill="none"/>
<circle cx="476.27" cy="362.11" r="1.35" fill="#5a2d62"/>
<path d="M484.71,362.17V364.45M483.31,362.17h2.8M483.31,364.45h2.8" stroke="#5a2d62" stroke-width="0.9" fill="none"/>
<circle cx="484.71" cy="363.31" r="1.35" fill="#5a2d62"/>
<circle cx="493.16" cy="364.11" r="1.35" fill="#5a2d62"/>
<path d="M501.60,362.97V365.25M500.20,362.97h2.8M500.20,365.25h2.8" stroke="#5a2d62" stroke-width="0.9" fill="none"/>
<circle cx="501.60" cy="364.11" r="1.35" fill="#5a2d62"/>
<line x1="205.80" y1="401.10" x2="213.80" y2="401.10" stroke="#5a2d62" stroke-width="1"/>
<circle cx="209.80" cy="401.1" r="1.3" fill="#5a2d62"/>
<text x="217.30" y="403.22" font-size="5.9" text-anchor="start" fill="#231f20" textLength="23.50" lengthAdjust="spacingAndGlyphs">sgAAVS1</text>
<line x1="250.40" y1="401.10" x2="258.40" y2="401.10" stroke="#a52a3c" stroke-width="1"/>
<circle cx="254.40" cy="401.1" r="1.3" fill="#a52a3c"/>
<text x="261.90" y="403.22" font-size="5.9" text-anchor="start" fill="#231f20" textLength="26.30" lengthAdjust="spacingAndGlyphs">CRBN sg1</text>
<line x1="298.80" y1="401.10" x2="306.80" y2="401.10" stroke="#66ae4a" stroke-width="1"/>
<circle cx="302.80" cy="401.1" r="1.3" fill="#66ae4a"/>
<text x="310.30" y="403.22" font-size="5.9" text-anchor="start" fill="#231f20" textLength="28.00" lengthAdjust="spacingAndGlyphs">SENP8 sg2</text>
<rect x="0.00" y="0.00" width="520.00" height="1.50" fill="#555"/>
<rect x="0.00" y="0.00" width="1.10" height="412.00" fill="#111"/>
<rect x="518.90" y="1.00" width="1.10" height="411.00" fill="#111"/>
<rect x="0.00" y="409.80" width="520.00" height="2.20" fill="#444"/>
</svg></body></html>
